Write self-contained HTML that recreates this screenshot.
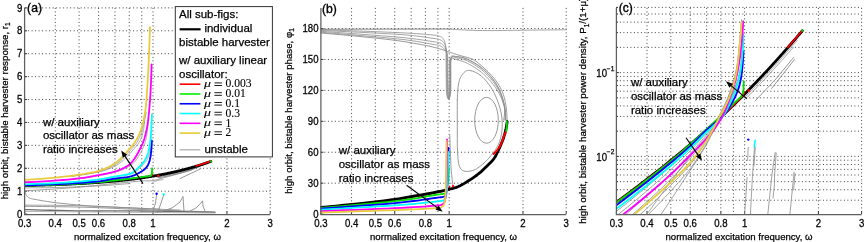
<!DOCTYPE html><html><head><meta charset="utf-8"><style>html,body{margin:0;padding:0;background:#fff;overflow:hidden}svg{display:block;will-change:transform}text{font-family:"Liberation Sans",sans-serif;fill:#000;stroke:#000;stroke-width:0.25px}.sf{font-family:"Liberation Serif",serif;stroke-width:0.1px}</style></head><body>
<svg xmlns="http://www.w3.org/2000/svg" width="864" height="242" viewBox="0 0 864 242">
<rect width="864" height="242" fill="#fff"/>
<line x1="55.28" y1="7.9" x2="55.28" y2="214.1" stroke="#444" stroke-width="1" stroke-dasharray="1 2.5" fill="none"/>
<line x1="79.09" y1="7.9" x2="79.09" y2="214.1" stroke="#444" stroke-width="1" stroke-dasharray="1 2.5" fill="none"/>
<line x1="98.53" y1="7.9" x2="98.53" y2="214.1" stroke="#444" stroke-width="1" stroke-dasharray="1 2.5" fill="none"/>
<line x1="114.98" y1="7.9" x2="114.98" y2="214.1" stroke="#444" stroke-width="1" stroke-dasharray="1 2.5" fill="none"/>
<line x1="129.22" y1="7.9" x2="129.22" y2="214.1" stroke="#444" stroke-width="1" stroke-dasharray="1 2.5" fill="none"/>
<line x1="141.78" y1="7.9" x2="141.78" y2="214.1" stroke="#444" stroke-width="1" stroke-dasharray="1 2.5" fill="none"/>
<line x1="153.02" y1="7.9" x2="153.02" y2="214.1" stroke="#444" stroke-width="1" stroke-dasharray="1 2.5" fill="none"/>
<line x1="226.95" y1="7.9" x2="226.95" y2="214.1" stroke="#444" stroke-width="1" stroke-dasharray="1 2.5" fill="none"/>
<line x1="270.20" y1="7.9" x2="270.20" y2="214.1" stroke="#444" stroke-width="1" stroke-dasharray="1 2.5" fill="none"/>
<line x1="24.6" y1="191.19" x2="270.20" y2="191.19" stroke="#444" stroke-width="1" stroke-dasharray="1 2.5" fill="none"/>
<line x1="24.6" y1="168.28" x2="270.20" y2="168.28" stroke="#444" stroke-width="1" stroke-dasharray="1 2.5" fill="none"/>
<line x1="24.6" y1="145.37" x2="270.20" y2="145.37" stroke="#444" stroke-width="1" stroke-dasharray="1 2.5" fill="none"/>
<line x1="24.6" y1="122.46" x2="270.20" y2="122.46" stroke="#444" stroke-width="1" stroke-dasharray="1 2.5" fill="none"/>
<line x1="24.6" y1="99.54" x2="270.20" y2="99.54" stroke="#444" stroke-width="1" stroke-dasharray="1 2.5" fill="none"/>
<line x1="24.6" y1="76.63" x2="270.20" y2="76.63" stroke="#444" stroke-width="1" stroke-dasharray="1 2.5" fill="none"/>
<line x1="24.6" y1="53.72" x2="270.20" y2="53.72" stroke="#444" stroke-width="1" stroke-dasharray="1 2.5" fill="none"/>
<line x1="24.6" y1="30.81" x2="270.20" y2="30.81" stroke="#444" stroke-width="1" stroke-dasharray="1 2.5" fill="none"/>
<line x1="24.6" y1="7.90" x2="270.20" y2="7.90" stroke="#444" stroke-width="1" stroke-dasharray="1 2.5" fill="none"/>
<line x1="24.6" y1="214.10" x2="27.1" y2="214.10" stroke="#000" stroke-width="0.8"/>
<text transform="translate(22.40,217.70) scale(1,1.08)" font-size="9.6" text-anchor="end">0</text>
<line x1="24.6" y1="191.19" x2="27.1" y2="191.19" stroke="#000" stroke-width="0.8"/>
<text transform="translate(22.40,194.79) scale(1,1.08)" font-size="9.6" text-anchor="end">1</text>
<line x1="24.6" y1="168.28" x2="27.1" y2="168.28" stroke="#000" stroke-width="0.8"/>
<text transform="translate(22.40,171.88) scale(1,1.08)" font-size="9.6" text-anchor="end">2</text>
<line x1="24.6" y1="145.37" x2="27.1" y2="145.37" stroke="#000" stroke-width="0.8"/>
<text transform="translate(22.40,148.97) scale(1,1.08)" font-size="9.6" text-anchor="end">3</text>
<line x1="24.6" y1="122.46" x2="27.1" y2="122.46" stroke="#000" stroke-width="0.8"/>
<text transform="translate(22.40,126.06) scale(1,1.08)" font-size="9.6" text-anchor="end">4</text>
<line x1="24.6" y1="99.54" x2="27.1" y2="99.54" stroke="#000" stroke-width="0.8"/>
<text transform="translate(22.40,103.14) scale(1,1.08)" font-size="9.6" text-anchor="end">5</text>
<line x1="24.6" y1="76.63" x2="27.1" y2="76.63" stroke="#000" stroke-width="0.8"/>
<text transform="translate(22.40,80.23) scale(1,1.08)" font-size="9.6" text-anchor="end">6</text>
<line x1="24.6" y1="53.72" x2="27.1" y2="53.72" stroke="#000" stroke-width="0.8"/>
<text transform="translate(22.40,57.32) scale(1,1.08)" font-size="9.6" text-anchor="end">7</text>
<line x1="24.6" y1="30.81" x2="27.1" y2="30.81" stroke="#000" stroke-width="0.8"/>
<text transform="translate(22.40,34.41) scale(1,1.08)" font-size="9.6" text-anchor="end">8</text>
<line x1="24.6" y1="7.90" x2="27.1" y2="7.90" stroke="#000" stroke-width="0.8"/>
<text transform="translate(22.40,11.50) scale(1,1.08)" font-size="9.6" text-anchor="end">9</text>
<line x1="24.60" y1="214.1" x2="24.60" y2="211.6" stroke="#000" stroke-width="0.8"/>
<text transform="translate(24.60,226.6) scale(1,1.1)" font-size="9.6" text-anchor="middle">0.3</text>
<line x1="55.28" y1="214.1" x2="55.28" y2="211.6" stroke="#000" stroke-width="0.8"/>
<text transform="translate(55.28,226.6) scale(1,1.1)" font-size="9.6" text-anchor="middle">0.4</text>
<line x1="79.09" y1="214.1" x2="79.09" y2="211.6" stroke="#000" stroke-width="0.8"/>
<text transform="translate(79.09,226.6) scale(1,1.1)" font-size="9.6" text-anchor="middle">0.5</text>
<line x1="98.53" y1="214.1" x2="98.53" y2="211.6" stroke="#000" stroke-width="0.8"/>
<text transform="translate(98.53,226.6) scale(1,1.1)" font-size="9.6" text-anchor="middle">0.6</text>
<line x1="129.22" y1="214.1" x2="129.22" y2="211.6" stroke="#000" stroke-width="0.8"/>
<text transform="translate(129.22,226.6) scale(1,1.1)" font-size="9.6" text-anchor="middle">0.8</text>
<line x1="153.02" y1="214.1" x2="153.02" y2="211.6" stroke="#000" stroke-width="0.8"/>
<text transform="translate(153.02,226.6) scale(1,1.1)" font-size="9.6" text-anchor="middle">1</text>
<line x1="226.95" y1="214.1" x2="226.95" y2="211.6" stroke="#000" stroke-width="0.8"/>
<text transform="translate(226.95,226.6) scale(1,1.1)" font-size="9.6" text-anchor="middle">2</text>
<line x1="270.20" y1="214.1" x2="270.20" y2="211.6" stroke="#000" stroke-width="0.8"/>
<text transform="translate(270.20,226.6) scale(1,1.1)" font-size="9.6" text-anchor="middle">3</text>
<text x="147.40" y="239.7" font-size="9.6" text-anchor="middle">normalized excitation frequency, ω</text>
<text transform="translate(7.6,110.8) rotate(-90)" font-size="9.73" text-anchor="middle">high orbit, bistable harvester response, r<tspan font-size="6.5" dy="2.5">1</tspan></text>
<text x="27.1" y="12.2" font-size="12.2" style="stroke-width:0.35px">(a)</text>
<line x1="351.55" y1="7.9" x2="351.55" y2="214.1" stroke="#444" stroke-width="1" stroke-dasharray="1 2.5" fill="none"/>
<line x1="375.32" y1="7.9" x2="375.32" y2="214.1" stroke="#444" stroke-width="1" stroke-dasharray="1 2.5" fill="none"/>
<line x1="394.74" y1="7.9" x2="394.74" y2="214.1" stroke="#444" stroke-width="1" stroke-dasharray="1 2.5" fill="none"/>
<line x1="411.16" y1="7.9" x2="411.16" y2="214.1" stroke="#444" stroke-width="1" stroke-dasharray="1 2.5" fill="none"/>
<line x1="425.39" y1="7.9" x2="425.39" y2="214.1" stroke="#444" stroke-width="1" stroke-dasharray="1 2.5" fill="none"/>
<line x1="437.94" y1="7.9" x2="437.94" y2="214.1" stroke="#444" stroke-width="1" stroke-dasharray="1 2.5" fill="none"/>
<line x1="449.16" y1="7.9" x2="449.16" y2="214.1" stroke="#444" stroke-width="1" stroke-dasharray="1 2.5" fill="none"/>
<line x1="523.00" y1="7.9" x2="523.00" y2="214.1" stroke="#444" stroke-width="1" stroke-dasharray="1 2.5" fill="none"/>
<line x1="566.20" y1="7.9" x2="566.20" y2="214.1" stroke="#444" stroke-width="1" stroke-dasharray="1 2.5" fill="none"/>
<line x1="320.9" y1="183.17" x2="566.20" y2="183.17" stroke="#444" stroke-width="1" stroke-dasharray="1 2.5" fill="none"/>
<line x1="320.9" y1="152.24" x2="566.20" y2="152.24" stroke="#444" stroke-width="1" stroke-dasharray="1 2.5" fill="none"/>
<line x1="320.9" y1="121.31" x2="566.20" y2="121.31" stroke="#444" stroke-width="1" stroke-dasharray="1 2.5" fill="none"/>
<line x1="320.9" y1="90.38" x2="566.20" y2="90.38" stroke="#444" stroke-width="1" stroke-dasharray="1 2.5" fill="none"/>
<line x1="320.9" y1="59.45" x2="566.20" y2="59.45" stroke="#444" stroke-width="1" stroke-dasharray="1 2.5" fill="none"/>
<line x1="320.9" y1="28.52" x2="566.20" y2="28.52" stroke="#444" stroke-width="1" stroke-dasharray="1 2.5" fill="none"/>
<line x1="320.9" y1="214.10" x2="323.4" y2="214.10" stroke="#000" stroke-width="0.8"/>
<text transform="translate(318.50,217.70) scale(1,1.08)" font-size="9.6" text-anchor="end">0</text>
<line x1="320.9" y1="183.17" x2="323.4" y2="183.17" stroke="#000" stroke-width="0.8"/>
<text transform="translate(318.50,186.77) scale(1,1.08)" font-size="9.6" text-anchor="end">30</text>
<line x1="320.9" y1="152.24" x2="323.4" y2="152.24" stroke="#000" stroke-width="0.8"/>
<text transform="translate(318.50,155.84) scale(1,1.08)" font-size="9.6" text-anchor="end">60</text>
<line x1="320.9" y1="121.31" x2="323.4" y2="121.31" stroke="#000" stroke-width="0.8"/>
<text transform="translate(318.50,124.91) scale(1,1.08)" font-size="9.6" text-anchor="end">90</text>
<line x1="320.9" y1="90.38" x2="323.4" y2="90.38" stroke="#000" stroke-width="0.8"/>
<text transform="translate(318.50,93.98) scale(1,1.08)" font-size="9.6" text-anchor="end">120</text>
<line x1="320.9" y1="59.45" x2="323.4" y2="59.45" stroke="#000" stroke-width="0.8"/>
<text transform="translate(318.50,63.05) scale(1,1.08)" font-size="9.6" text-anchor="end">150</text>
<line x1="320.9" y1="28.52" x2="323.4" y2="28.52" stroke="#000" stroke-width="0.8"/>
<text transform="translate(318.50,32.12) scale(1,1.08)" font-size="9.6" text-anchor="end">180</text>
<line x1="320.90" y1="214.1" x2="320.90" y2="211.6" stroke="#000" stroke-width="0.8"/>
<text transform="translate(320.90,226.6) scale(1,1.1)" font-size="9.6" text-anchor="middle">0.3</text>
<line x1="351.55" y1="214.1" x2="351.55" y2="211.6" stroke="#000" stroke-width="0.8"/>
<text transform="translate(351.55,226.6) scale(1,1.1)" font-size="9.6" text-anchor="middle">0.4</text>
<line x1="375.32" y1="214.1" x2="375.32" y2="211.6" stroke="#000" stroke-width="0.8"/>
<text transform="translate(375.32,226.6) scale(1,1.1)" font-size="9.6" text-anchor="middle">0.5</text>
<line x1="394.74" y1="214.1" x2="394.74" y2="211.6" stroke="#000" stroke-width="0.8"/>
<text transform="translate(394.74,226.6) scale(1,1.1)" font-size="9.6" text-anchor="middle">0.6</text>
<line x1="425.39" y1="214.1" x2="425.39" y2="211.6" stroke="#000" stroke-width="0.8"/>
<text transform="translate(425.39,226.6) scale(1,1.1)" font-size="9.6" text-anchor="middle">0.8</text>
<line x1="449.16" y1="214.1" x2="449.16" y2="211.6" stroke="#000" stroke-width="0.8"/>
<text transform="translate(449.16,226.6) scale(1,1.1)" font-size="9.6" text-anchor="middle">1</text>
<line x1="523.00" y1="214.1" x2="523.00" y2="211.6" stroke="#000" stroke-width="0.8"/>
<text transform="translate(523.00,226.6) scale(1,1.1)" font-size="9.6" text-anchor="middle">2</text>
<line x1="566.20" y1="214.1" x2="566.20" y2="211.6" stroke="#000" stroke-width="0.8"/>
<text transform="translate(566.20,226.6) scale(1,1.1)" font-size="9.6" text-anchor="middle">3</text>
<text x="443.55" y="239.7" font-size="9.6" text-anchor="middle">normalized excitation frequency, ω</text>
<text transform="translate(291.8,111.0) rotate(-90)" font-size="9.67" text-anchor="middle">high orbit, bistable harvester phase, φ<tspan font-size="6.5" dy="2.5">1</tspan></text>
<text x="321.9" y="12.6" font-size="12.2" style="stroke-width:0.35px">(b)</text>
<line x1="647.03" y1="7.9" x2="647.03" y2="214.1" stroke="#444" stroke-width="1" stroke-dasharray="1 2.5" fill="none"/>
<line x1="670.80" y1="7.9" x2="670.80" y2="214.1" stroke="#444" stroke-width="1" stroke-dasharray="1 2.5" fill="none"/>
<line x1="690.21" y1="7.9" x2="690.21" y2="214.1" stroke="#444" stroke-width="1" stroke-dasharray="1 2.5" fill="none"/>
<line x1="706.63" y1="7.9" x2="706.63" y2="214.1" stroke="#444" stroke-width="1" stroke-dasharray="1 2.5" fill="none"/>
<line x1="720.85" y1="7.9" x2="720.85" y2="214.1" stroke="#444" stroke-width="1" stroke-dasharray="1 2.5" fill="none"/>
<line x1="733.39" y1="7.9" x2="733.39" y2="214.1" stroke="#444" stroke-width="1" stroke-dasharray="1 2.5" fill="none"/>
<line x1="744.61" y1="7.9" x2="744.61" y2="214.1" stroke="#444" stroke-width="1" stroke-dasharray="1 2.5" fill="none"/>
<line x1="818.42" y1="7.9" x2="818.42" y2="214.1" stroke="#444" stroke-width="1" stroke-dasharray="1 2.5" fill="none"/>
<line x1="861.60" y1="7.9" x2="861.60" y2="214.1" stroke="#444" stroke-width="1" stroke-dasharray="1 2.5" fill="none"/>
<line x1="616.4" y1="200.22" x2="861.60" y2="200.22" stroke="#444" stroke-width="1" stroke-dasharray="1 2.5" fill="none"/>
<line x1="616.4" y1="189.75" x2="861.60" y2="189.75" stroke="#444" stroke-width="1" stroke-dasharray="1 2.5" fill="none"/>
<line x1="616.4" y1="181.63" x2="861.60" y2="181.63" stroke="#444" stroke-width="1" stroke-dasharray="1 2.5" fill="none"/>
<line x1="616.4" y1="174.99" x2="861.60" y2="174.99" stroke="#444" stroke-width="1" stroke-dasharray="1 2.5" fill="none"/>
<line x1="616.4" y1="169.38" x2="861.60" y2="169.38" stroke="#444" stroke-width="1" stroke-dasharray="1 2.5" fill="none"/>
<line x1="616.4" y1="164.52" x2="861.60" y2="164.52" stroke="#444" stroke-width="1" stroke-dasharray="1 2.5" fill="none"/>
<line x1="616.4" y1="160.23" x2="861.60" y2="160.23" stroke="#444" stroke-width="1" stroke-dasharray="1 2.5" fill="none"/>
<line x1="616.4" y1="156.40" x2="861.60" y2="156.40" stroke="#444" stroke-width="1" stroke-dasharray="1 2.5" fill="none"/>
<line x1="616.4" y1="131.17" x2="861.60" y2="131.17" stroke="#444" stroke-width="1" stroke-dasharray="1 2.5" fill="none"/>
<line x1="616.4" y1="116.42" x2="861.60" y2="116.42" stroke="#444" stroke-width="1" stroke-dasharray="1 2.5" fill="none"/>
<line x1="616.4" y1="105.95" x2="861.60" y2="105.95" stroke="#444" stroke-width="1" stroke-dasharray="1 2.5" fill="none"/>
<line x1="616.4" y1="97.83" x2="861.60" y2="97.83" stroke="#444" stroke-width="1" stroke-dasharray="1 2.5" fill="none"/>
<line x1="616.4" y1="91.19" x2="861.60" y2="91.19" stroke="#444" stroke-width="1" stroke-dasharray="1 2.5" fill="none"/>
<line x1="616.4" y1="85.58" x2="861.60" y2="85.58" stroke="#444" stroke-width="1" stroke-dasharray="1 2.5" fill="none"/>
<line x1="616.4" y1="80.72" x2="861.60" y2="80.72" stroke="#444" stroke-width="1" stroke-dasharray="1 2.5" fill="none"/>
<line x1="616.4" y1="76.43" x2="861.60" y2="76.43" stroke="#444" stroke-width="1" stroke-dasharray="1 2.5" fill="none"/>
<line x1="616.4" y1="72.60" x2="861.60" y2="72.60" stroke="#444" stroke-width="1" stroke-dasharray="1 2.5" fill="none"/>
<line x1="616.4" y1="47.37" x2="861.60" y2="47.37" stroke="#444" stroke-width="1" stroke-dasharray="1 2.5" fill="none"/>
<line x1="616.4" y1="32.62" x2="861.60" y2="32.62" stroke="#444" stroke-width="1" stroke-dasharray="1 2.5" fill="none"/>
<line x1="616.4" y1="22.15" x2="861.60" y2="22.15" stroke="#444" stroke-width="1" stroke-dasharray="1 2.5" fill="none"/>
<line x1="616.4" y1="14.03" x2="861.60" y2="14.03" stroke="#444" stroke-width="1" stroke-dasharray="1 2.5" fill="none"/>
<line x1="616.4" y1="7.39" x2="861.60" y2="7.39" stroke="#444" stroke-width="1" stroke-dasharray="1 2.5" fill="none"/>
<line x1="616.4" y1="200.22" x2="617.9" y2="200.22" stroke="#000" stroke-width="0.8"/>
<line x1="616.4" y1="189.75" x2="617.9" y2="189.75" stroke="#000" stroke-width="0.8"/>
<line x1="616.4" y1="181.63" x2="617.9" y2="181.63" stroke="#000" stroke-width="0.8"/>
<line x1="616.4" y1="174.99" x2="617.9" y2="174.99" stroke="#000" stroke-width="0.8"/>
<line x1="616.4" y1="169.38" x2="617.9" y2="169.38" stroke="#000" stroke-width="0.8"/>
<line x1="616.4" y1="164.52" x2="617.9" y2="164.52" stroke="#000" stroke-width="0.8"/>
<line x1="616.4" y1="160.23" x2="617.9" y2="160.23" stroke="#000" stroke-width="0.8"/>
<line x1="616.4" y1="156.40" x2="618.9" y2="156.40" stroke="#000" stroke-width="0.8"/>
<line x1="616.4" y1="131.17" x2="617.9" y2="131.17" stroke="#000" stroke-width="0.8"/>
<line x1="616.4" y1="116.42" x2="617.9" y2="116.42" stroke="#000" stroke-width="0.8"/>
<line x1="616.4" y1="105.95" x2="617.9" y2="105.95" stroke="#000" stroke-width="0.8"/>
<line x1="616.4" y1="97.83" x2="617.9" y2="97.83" stroke="#000" stroke-width="0.8"/>
<line x1="616.4" y1="91.19" x2="617.9" y2="91.19" stroke="#000" stroke-width="0.8"/>
<line x1="616.4" y1="85.58" x2="617.9" y2="85.58" stroke="#000" stroke-width="0.8"/>
<line x1="616.4" y1="80.72" x2="617.9" y2="80.72" stroke="#000" stroke-width="0.8"/>
<line x1="616.4" y1="76.43" x2="617.9" y2="76.43" stroke="#000" stroke-width="0.8"/>
<line x1="616.4" y1="72.60" x2="618.9" y2="72.60" stroke="#000" stroke-width="0.8"/>
<line x1="616.4" y1="47.37" x2="617.9" y2="47.37" stroke="#000" stroke-width="0.8"/>
<line x1="616.4" y1="32.62" x2="617.9" y2="32.62" stroke="#000" stroke-width="0.8"/>
<line x1="616.4" y1="22.15" x2="617.9" y2="22.15" stroke="#000" stroke-width="0.8"/>
<line x1="616.4" y1="14.03" x2="617.9" y2="14.03" stroke="#000" stroke-width="0.8"/>
<line x1="616.4" y1="7.39" x2="617.9" y2="7.39" stroke="#000" stroke-width="0.8"/>
<text transform="translate(596.3,160.80) scale(1,1.16)" font-size="9.6">10</text>
<text x="606.8" y="154.40" font-size="6.6">−2</text>
<text transform="translate(596.3,77.00) scale(1,1.16)" font-size="9.6">10</text>
<text x="606.8" y="70.60" font-size="6.6">−1</text>
<line x1="616.40" y1="214.1" x2="616.40" y2="211.6" stroke="#000" stroke-width="0.8"/>
<text transform="translate(616.40,226.6) scale(1,1.1)" font-size="9.6" text-anchor="middle">0.3</text>
<line x1="647.03" y1="214.1" x2="647.03" y2="211.6" stroke="#000" stroke-width="0.8"/>
<text transform="translate(647.03,226.6) scale(1,1.1)" font-size="9.6" text-anchor="middle">0.4</text>
<line x1="670.80" y1="214.1" x2="670.80" y2="211.6" stroke="#000" stroke-width="0.8"/>
<text transform="translate(670.80,226.6) scale(1,1.1)" font-size="9.6" text-anchor="middle">0.5</text>
<line x1="690.21" y1="214.1" x2="690.21" y2="211.6" stroke="#000" stroke-width="0.8"/>
<text transform="translate(690.21,226.6) scale(1,1.1)" font-size="9.6" text-anchor="middle">0.6</text>
<line x1="720.85" y1="214.1" x2="720.85" y2="211.6" stroke="#000" stroke-width="0.8"/>
<text transform="translate(720.85,226.6) scale(1,1.1)" font-size="9.6" text-anchor="middle">0.8</text>
<line x1="744.61" y1="214.1" x2="744.61" y2="211.6" stroke="#000" stroke-width="0.8"/>
<text transform="translate(744.61,226.6) scale(1,1.1)" font-size="9.6" text-anchor="middle">1</text>
<line x1="818.42" y1="214.1" x2="818.42" y2="211.6" stroke="#000" stroke-width="0.8"/>
<text transform="translate(818.42,226.6) scale(1,1.1)" font-size="9.6" text-anchor="middle">2</text>
<line x1="861.60" y1="214.1" x2="861.60" y2="211.6" stroke="#000" stroke-width="0.8"/>
<text transform="translate(861.60,226.6) scale(1,1.1)" font-size="9.6" text-anchor="middle">3</text>
<text x="739.00" y="239.7" font-size="9.6" text-anchor="middle">normalized excitation frequency, ω</text>
<text transform="translate(586.2,110.8) rotate(-90)" font-size="9.75" text-anchor="middle">high orbit, bistable harvester power density, P<tspan font-size="6.5" dy="2.5">1</tspan><tspan dy="-2.5">/(1+μ)</tspan></text>
<text x="618.7" y="12.0" font-size="12.2" style="stroke-width:0.35px">(c)</text>
<defs><clipPath id="ca"><rect x="24" y="4" width="248" height="210.5"/></clipPath><clipPath id="cb"><rect x="320" y="4" width="248" height="210.5"/></clipPath><clipPath id="cc"><rect x="616" y="4" width="248" height="210.5"/></clipPath></defs>
<g clip-path="url(#ca)">
<path d="M24.60 205.10 L29.18 205.14 L35.26 205.18 L42.50 205.22 L50.55 205.28 L59.07 205.35 L67.72 205.46 L76.14 205.61 L84.00 205.80 L91.64 206.06 L99.52 206.39 L107.51 206.76 L115.46 207.16 L123.23 207.56 L130.67 207.95 L137.64 208.30 L144.00 208.60 L149.89 208.85 L155.53 209.08 L160.84 209.29 L165.75 209.47 L170.19 209.64 L174.09 209.78 L177.39 209.90 L180.00 210.00" stroke="#8c8c8c" stroke-width="0.8" fill="none" stroke-linejoin="round" stroke-linecap="round" />
<path d="M24.60 206.30 L29.18 206.36 L35.26 206.43 L42.50 206.51 L50.55 206.60 L59.07 206.71 L67.72 206.85 L76.14 207.01 L84.00 207.20 L91.50 207.43 L99.05 207.71 L106.63 208.01 L114.21 208.34 L121.77 208.67 L129.27 209.00 L136.69 209.31 L144.00 209.60 L151.47 209.87 L159.24 210.14 L167.09 210.41 L174.81 210.67 L182.18 210.91 L188.98 211.14 L194.99 211.33 L200.00 211.50 L203.94 211.63 L206.98 211.74 L209.29 211.81 L211.00 211.87 L212.28 211.91 L213.27 211.94 L214.12 211.97 L215.00 212.00" stroke="#8c8c8c" stroke-width="0.9" fill="none" stroke-linejoin="round" stroke-linecap="round" />
<path d="M24.60 209.60 L29.18 209.71 L35.26 209.86 L42.50 210.05 L50.55 210.24 L59.07 210.44 L67.72 210.63 L76.14 210.79 L84.00 210.90 L91.40 210.96 L98.70 210.98 L105.97 210.97 L113.28 210.95 L120.67 210.93 L128.21 210.92 L135.97 210.94 L144.00 211.00 L152.83 211.11 L162.64 211.27 L172.94 211.46 L183.25 211.66 L193.09 211.85 L201.98 212.04 L209.45 212.19 L215.00 212.30" stroke="#6e6e6e" stroke-width="1.3" fill="none" stroke-linejoin="round" stroke-linecap="round" />
<path d="M24.60 211.40 L28.69 211.43 L33.60 211.48 L39.38 211.52 L46.11 211.58 L53.87 211.65 L62.72 211.72 L72.74 211.81 L84.00 211.90 L97.84 212.02 L114.79 212.16 L133.64 212.32 L153.21 212.48 L172.32 212.64 L189.78 212.79 L204.40 212.91 L215.00 213.00" stroke="#aaaaaa" stroke-width="0.9" fill="none" stroke-linejoin="round" stroke-linecap="round" />
<path d="M25.20 191.60 L25.26 191.87 L25.34 192.22 L25.42 192.65 L25.53 193.12 L25.65 193.62 L25.80 194.11 L25.98 194.58 L26.20 195.00 L26.44 195.39 L26.70 195.77 L26.98 196.15 L27.29 196.51 L27.64 196.86 L28.03 197.20 L28.48 197.51 L29.00 197.80 L29.50 198.05 L29.95 198.25 L30.40 198.42 L30.93 198.58 L31.58 198.74 L32.44 198.92 L33.56 199.13 L35.00 199.40 L36.77 199.73 L38.80 200.09 L41.08 200.50 L43.56 200.92 L46.23 201.35 L49.04 201.78 L51.97 202.20 L55.00 202.60 L58.28 202.99 L61.92 203.39 L65.79 203.79 L69.75 204.19 L73.68 204.56 L77.45 204.92 L80.94 205.23 L84.00 205.50 L86.43 205.71 L88.26 205.86 L89.72 205.97 L91.06 206.06 L92.52 206.14 L94.34 206.23 L96.75 206.34 L100.00 206.50 L104.35 206.70 L109.69 206.94 L115.68 207.19 L122.00 207.46 L128.32 207.73 L134.31 207.98 L139.65 208.21 L144.00 208.40 L147.45 208.56 L150.34 208.70 L152.75 208.82 L154.75 208.92 L156.40 209.01 L157.78 209.08 L158.96 209.15 L160.00 209.20" stroke="#8c8c8c" stroke-width="0.9" fill="none" stroke-linejoin="round" stroke-linecap="round" />
<path d="M24.60 187.90 L27.30 187.87 L30.85 187.84 L35.08 187.80 L39.80 187.75 L44.83 187.69 L50.00 187.61 L55.11 187.52 L60.00 187.40 L64.85 187.26 L69.91 187.09 L75.10 186.91 L80.34 186.71 L85.53 186.50 L90.60 186.28 L95.45 186.04 L100.00 185.80 L104.43 185.53 L108.91 185.22 L113.30 184.89 L117.50 184.55 L121.39 184.22 L124.84 183.93 L127.75 183.68 L130.00 183.50" stroke="#8c8c8c" stroke-width="0.8" fill="none" stroke-linejoin="round" stroke-linecap="round" />
<path d="M160.00 212.00 L172.00 208.00 L180.00 202.00 L183.00 196.50 L183.50 204.00 L184.00 211.00" stroke="#8c8c8c" stroke-width="0.9" fill="none" stroke-linejoin="round" stroke-linecap="round" />
<path d="M188.00 212.00 L196.00 208.00 L201.00 203.00 L202.60 200.80 L203.00 206.00 L205.00 211.00" stroke="#8c8c8c" stroke-width="0.9" fill="none" stroke-linejoin="round" stroke-linecap="round" />
<path d="M156.60 195.00 L155.50 203.00 L154.00 208.00 L153.20 212.00" stroke="#8c8c8c" stroke-width="0.9" fill="none" stroke-linejoin="round" stroke-linecap="round" />
<path d="M163.70 195.00 L161.00 203.00 L158.50 210.00 L157.50 212.50" stroke="#8c8c8c" stroke-width="0.9" fill="none" stroke-linejoin="round" stroke-linecap="round" />
<path d="M24.60 190.77 L27.73 190.61 L30.77 190.44 L33.72 190.28 L36.60 190.12 L39.40 189.96 L42.13 189.80 L44.79 189.63 L47.39 189.47 L49.92 189.31 L52.40 189.14 L54.81 188.98 L57.18 188.81 L59.49 188.65 L61.76 188.49 L63.98 188.32 L66.15 188.16 L68.28 187.99 L70.37 187.83 L72.41 187.67 L74.42 187.51 L76.40 187.34 L78.33 187.18 L80.23 187.02 L82.10 186.86 L83.94 186.69 L85.74 186.52 L87.52 186.35 L89.26 186.17 L90.98 186.00 L92.67 185.82 L94.34 185.65 L95.98 185.47 L97.59 185.29 L99.18 185.12 L100.75 184.95 L102.29 184.78 L103.81 184.61 L105.31 184.45 L106.79 184.28 L108.25 184.13 L109.69 183.97 L111.11 183.83 L112.51 183.68 L113.90 183.55 L115.26 183.42 L116.61 183.29 L117.94 183.16 L119.26 183.04 L120.56 182.91 L121.84 182.79 L123.11 182.67 L124.36 182.55 L125.60 182.44 L126.83 182.32 L128.04 182.21 L129.23 182.09 L130.42 181.98 L131.59 181.87 L132.75 181.76 L133.89 181.65 L135.03 181.54 L136.15 181.43 L137.26 181.33 L138.36 181.22 L139.44 181.12 L140.52 181.01 L141.59 180.91 L142.64 180.82 L143.69 180.78 L144.72 180.77 L145.75 180.79 L146.76 180.82 L147.77 180.85 L148.76 180.88 L149.75 180.89 L150.73 180.87 L151.70 180.81 L152.66 180.70 L153.61 180.54 L154.55 180.34 L155.49 180.12 L156.41 179.88 L157.33 179.63 L158.24 179.36 L159.15 179.09 L160.04 178.81 L160.93 178.54 L161.81 178.28 L162.68 178.04 L163.55 177.80 L164.41 177.58 L165.26 177.35 L166.11 177.13 L166.95 176.91 L167.78 176.69 L168.61 176.47 L169.43 176.25 L170.24 176.04 L171.05 175.82 L171.85 175.60 L172.64 175.39 L173.43 175.17 L174.22 174.95 L175.00 174.74 L175.77 174.52 L176.54 174.30 L177.30 174.08 L178.05 173.86 L178.80 173.64 L179.55 173.42 L180.29 173.20 L181.02 172.97 L181.75 172.75 L182.48 172.52 L183.20 172.30 L183.92 172.07 L184.63 171.85 L185.33 171.62 L186.03 171.39 L186.73 171.17 L187.42 170.94 L188.11 170.71 L188.79 170.48 L189.47 170.25 L190.15 170.02 L190.82 169.79 L191.48 169.56 L192.15 169.33 L192.80 169.09 L193.46 168.86 L194.11 168.62 L194.75 168.38 L195.40 168.14 L196.03 167.90 L196.67 167.66 L197.30 167.41 L197.93 167.16 L198.55 166.92 L199.17 166.67 L199.79 166.42 L200.40 166.16 L201.01 165.91 L201.61 165.65 L202.22 165.40 L202.81 165.14 L203.41 164.88 L204.00 164.62 L204.59 164.36 L205.18 164.10 L205.76 163.83 L206.34 163.57 L206.92 163.30 L207.49 163.03 L208.06 162.77 L208.63 162.50 L209.19 162.22 L209.75 161.95 L210.31 161.68 L210.86 161.41" stroke="#8c8c8c" stroke-width="0.9" fill="none" stroke-linejoin="round" stroke-linecap="round" />
<path d="M156.17 176.24 L157.20 176.38 L158.22 176.51 L159.23 176.65 L160.24 176.46 L161.23 176.28 L162.21 176.09 L163.19 175.90 L164.15 175.71 L165.11 175.52 L166.06 175.33 L166.99 175.14 L167.93 174.95 L168.85 174.76 L169.77 174.56 L170.67 174.37 L171.57 174.17 L172.47 173.98 L173.35 173.78 L174.23 173.58 L175.10 173.38 L175.96 173.19 L176.82 172.99 L177.67 172.79 L178.51 172.59 L179.35 172.38 L180.18 172.18 L181.00 171.98 L181.82 171.78 L182.63 171.57 L183.44 171.37 L184.24 171.16 L185.03 170.96 L185.82 170.75 L186.60 170.55 L187.37 170.34 L188.14 170.13 L188.91 169.92 L189.67 169.71 L190.42 169.50 L191.17 169.21 L191.91 168.92 L192.65 168.63 L193.38 168.34 L194.11 168.05 L194.84 167.76 L195.55 167.46 L196.27 167.17 L196.98 166.88 L197.68 166.58 L198.38 166.29 L199.07 165.99 L199.76 165.70 L200.45 165.40 L201.13 165.10 L201.81 164.81 L202.48 164.51 L203.15 164.21 L203.82 163.91 L204.48 163.61" stroke="#777" stroke-width="0.9" fill="none" stroke-linejoin="round" stroke-linecap="round" />
<path d="M156.17 176.64 L157.20 176.98 L158.22 177.31 L159.23 177.65 L160.24 177.46 L161.23 177.28 L162.21 177.09 L163.19 176.90 L164.15 176.71 L165.11 176.52 L166.06 176.33 L166.99 176.14 L167.93 175.95 L168.85 175.76 L169.77 175.56 L170.67 175.37 L171.57 175.17 L172.47 174.98 L173.35 174.78 L174.23 174.58 L175.10 174.38 L175.96 174.19 L176.82 173.99 L177.67 173.79 L178.51 173.59 L179.35 173.38 L180.18 173.18 L181.00 172.98 L181.82 172.78 L182.63 172.57 L183.44 172.37 L184.24 172.16 L185.03 171.96 L185.82 171.75 L186.60 171.55 L187.37 171.34 L188.14 171.13 L188.91 170.92 L189.67 170.71 L190.42 170.50 L191.17 170.16 L191.91 169.82 L192.65 169.48 L193.38 169.14 L194.11 168.80 L194.84 168.46 L195.55 168.11 L196.27 167.77 L196.98 167.43 L197.68 167.08 L198.38 166.74 L199.07 166.39 L199.76 166.05 L200.45 165.70 L201.13 165.35 L201.81 165.01 L202.48 164.66 L203.15 164.31 L203.82 163.96 L204.48 163.61" stroke="#777" stroke-width="0.9" fill="none" stroke-linejoin="round" stroke-linecap="round" />
<path d="M180.00 178.60 L201.00 168.60" stroke="#8c8c8c" stroke-width="0.9" fill="none" stroke-linejoin="round" stroke-linecap="round" />
<path d="M151.50 183.50 L151.73 183.35 L152.03 183.14 L152.38 182.90 L152.78 182.62 L153.21 182.34 L153.64 182.07 L154.08 181.82 L154.50 181.60 L154.90 181.41 L155.30 181.24 L155.71 181.08 L156.12 180.93 L156.56 180.79 L157.01 180.66 L157.49 180.53 L158.00 180.40 L158.59 180.28 L159.26 180.15 L159.98 180.04 L160.72 179.93 L161.43 179.82 L162.07 179.73 L162.60 179.66 L163.00 179.60" stroke="#8c8c8c" stroke-width="0.8" fill="none" stroke-linejoin="round" stroke-linecap="round" />
<path d="M70.05 176.23 L71.88 176.01 L73.63 175.78 L75.31 175.55 L76.93 175.33 L78.48 175.11 L79.98 174.89 L81.42 174.67 L82.82 174.46 L84.16 174.25 L85.46 174.04 L86.72 173.84 L87.94 173.64 L89.13 173.43 L90.27 173.23 L91.38 173.03 L92.46 172.83 L93.51 172.62 L94.53 172.42 L95.53 172.21 L96.49 171.99 L97.43 171.78 L98.35 171.56 L99.24 171.33 L100.11 171.11 L100.96 170.87 L101.78 170.63 L102.59 170.38 L103.38 170.12 L104.15 169.86 L104.90 169.58 L105.64 169.31 L106.36 169.02 L107.06 168.73 L107.75 168.44 L108.43 168.14 L109.08 167.84 L109.73 167.54 L110.36 167.23 L110.98 166.92 L111.59 166.61 L112.18 166.29 L112.77 165.98 L113.34 165.66 L113.90 165.35 L114.45 165.03 L114.99 164.71 L115.52 164.39 L116.04 164.07 L116.55 163.75 L117.05 163.43 L117.54 163.11 L118.02 162.78 L118.50 162.44 L118.96 162.08 L119.42 161.72 L119.87 161.36 L120.31 160.98 L120.75 160.61 L121.17 160.23 L121.59 159.84 L122.01 159.45 L122.41 159.06 L122.81 158.67 L123.21 158.28 L123.59 157.89 L123.98 157.50 L124.35 157.11 L124.72 156.72 L125.08 156.33 L125.44 155.94 L125.79 155.56 L126.14 155.18 L126.48 154.80 L126.82 154.43 L127.15 154.06 L127.47 153.70 L127.79 153.33 L128.11 152.98 L128.42 152.62 L128.73 152.28 L129.03 151.93 L129.33 151.59 L129.63 151.26 L129.92 150.93 L130.20 150.61 L130.48 150.30 L130.76 149.99 L131.04 149.68 L131.31 149.38 L131.57 149.09 L131.84 148.80 L132.10 148.51 L132.35 148.22 L132.60 147.94 L132.85 147.65 L133.10 147.36 L133.34 147.08 L133.58 146.80 L133.82 146.52 L134.05 146.23 L134.28 145.95 L134.50 145.67 L134.73 145.39 L134.95 145.11 L135.17 144.83 L135.38 144.54 L135.59 144.26 L135.80 143.98 L136.01 143.70 L136.22 143.41 L136.42 143.13 L136.62 142.85 L136.81 142.56 L137.01 142.28 L137.20 141.99 L137.37 141.70 L137.53 141.41 L137.70 141.12 L137.86 140.83 L138.02 140.54 L138.17 140.25 L138.33 139.95 L138.48 139.66 L138.63 139.36 L138.78 139.06 L138.92 138.76 L139.07 138.46 L139.21 138.16 L139.35 137.86 L139.49 137.55 L139.62 137.24 L139.75 136.94 L139.89 136.62 L140.02 136.31 L140.14 136.00 L140.27 135.68 L140.39 135.36 L140.52 135.05 L140.64 134.72 L140.75 134.40 L140.87 134.08 L140.99 133.75 L141.10 133.42 L141.21 133.09 L141.32 132.75 L141.43 132.42 L141.53 132.08 L141.64 131.74 L141.74 131.40 L141.84 131.06 L141.94 130.71 L142.04 130.36 L142.14 130.01 L142.24 129.66 L142.33 129.31 L142.42 128.95 L142.51 128.59 L142.60 128.23 L142.69 127.87 L142.78 127.50 L142.86 127.13 L142.95 126.76 L143.03 126.39 L143.11 126.02 L143.19 125.65 L143.27 125.27 L143.35 124.90 L143.42 124.52 L143.50 124.14 L143.57 123.75 L143.64 123.37 L143.71 122.98 L143.78 122.59 L143.85 122.20 L143.92 121.81 L143.99 121.41 L144.05 121.01 L144.12 120.61 L144.18 120.20 L144.24 119.79 L144.31 119.38 L144.40 118.96 L144.49 118.54 L144.57 118.12 L144.66 117.69 L144.75 117.26 L144.83 116.82 L144.92 116.38 L145.00 115.94 L145.08 115.50 L145.16 115.05 L145.24 114.59 L145.32 114.13 L145.40 113.67 L145.48 113.20 L145.56 112.73 L145.63 112.25" stroke="#8c8c8c" stroke-width="0.8" fill="none" stroke-linejoin="round" stroke-linecap="round" />
<path d="M72.25 176.23 L74.08 176.01 L75.83 175.78 L77.51 175.55 L79.13 175.33 L80.68 175.11 L82.18 174.89 L83.62 174.67 L85.02 174.46 L86.36 174.25 L87.66 174.04 L88.92 173.84 L90.14 173.64 L91.33 173.43 L92.47 173.23 L93.58 173.03 L94.66 172.83 L95.71 172.62 L96.73 172.42 L97.73 172.21 L98.69 171.99 L99.63 171.78 L100.55 171.56 L101.44 171.33 L102.31 171.11 L103.16 170.87 L103.98 170.63 L104.79 170.38 L105.58 170.12 L106.35 169.86 L107.10 169.58 L107.84 169.31 L108.56 169.02 L109.26 168.73 L109.95 168.44 L110.63 168.14 L111.28 167.84 L111.93 167.54 L112.56 167.23 L113.18 166.92 L113.79 166.61 L114.38 166.29 L114.97 165.98 L115.54 165.66 L116.10 165.35 L116.65 165.03 L117.19 164.71 L117.72 164.39 L118.24 164.07 L118.75 163.75 L119.25 163.43 L119.74 163.11 L120.22 162.78 L120.70 162.44 L121.16 162.08 L121.62 161.72 L122.07 161.36 L122.51 160.98 L122.95 160.61 L123.37 160.23 L123.79 159.84 L124.21 159.45 L124.61 159.06 L125.01 158.67 L125.41 158.28 L125.79 157.89 L126.18 157.50 L126.55 157.11 L126.92 156.72 L127.28 156.33 L127.64 155.94 L127.99 155.56 L128.34 155.18 L128.68 154.80 L129.02 154.43 L129.35 154.06 L129.67 153.70 L129.99 153.33 L130.31 152.98 L130.62 152.62 L130.93 152.28 L131.23 151.93 L131.53 151.59 L131.83 151.26 L132.12 150.93 L132.40 150.61 L132.68 150.30 L132.96 149.99 L133.24 149.68 L133.51 149.38 L133.77 149.09 L134.04 148.80 L134.30 148.51 L134.55 148.22 L134.80 147.94 L135.05 147.65 L135.30 147.36 L135.54 147.08 L135.78 146.80 L136.02 146.52 L136.25 146.23 L136.48 145.95 L136.70 145.67 L136.93 145.39 L137.15 145.11 L137.37 144.83 L137.58 144.54 L137.79 144.26 L138.00 143.98 L138.21 143.70 L138.42 143.41 L138.62 143.13 L138.82 142.85 L139.01 142.56 L139.21 142.28 L139.40 141.99 L139.54 141.70 L139.69 141.41 L139.83 141.12 L139.97 140.83 L140.11 140.54 L140.25 140.25 L140.38 139.95 L140.51 139.66 L140.64 139.36 L140.76 139.06 L140.89 138.76 L141.01 138.46 L141.13 138.16 L141.24 137.86 L141.36 137.55 L141.47 137.24 L141.58 136.94 L141.69 136.62 L141.80 136.31 L141.90 136.00 L142.01 135.68 L142.11 135.36 L142.21 135.05 L142.30 134.72 L142.40 134.40 L142.49 134.08 L142.58 133.75 L142.67 133.42 L142.76 133.09 L142.84 132.75 L142.93 132.42 L143.01 132.08 L143.09 131.74 L143.17 131.40 L143.24 131.06 L143.32 130.71 L143.39 130.36 L143.46 130.01 L143.53 129.66 L143.60 129.31 L143.66 128.95 L143.73 128.59 L143.79 128.23 L143.85 127.87 L143.91 127.50 L143.97 127.13 L144.03 126.76 L144.08 126.39 L144.14 126.02 L144.19 125.65 L144.24 125.27 L144.29 124.90 L144.34 124.52 L144.39 124.14 L144.43 123.75 L144.48 123.37 L144.52 122.98 L144.56 122.59 L144.60 122.20 L144.64 121.81 L144.68 121.41 L144.71 121.01 L144.75 120.61 L144.78 120.20 L144.81 119.79 L144.86 119.38 L144.95 118.96 L145.04 118.54 L145.12 118.12 L145.21 117.69 L145.30 117.26 L145.38 116.82 L145.47 116.38 L145.55 115.94 L145.63 115.50 L145.71 115.05 L145.79 114.59 L145.87 114.13 L145.95 113.67 L146.03 113.20 L146.11 112.73 L146.18 112.25" stroke="#8c8c8c" stroke-width="0.8" fill="none" stroke-linejoin="round" stroke-linecap="round" />
<path d="M70.35 179.57 L72.67 179.35 L74.87 179.12 L76.96 178.89 L78.95 178.67 L80.85 178.45 L82.66 178.22 L84.39 177.99 L86.05 177.76 L87.64 177.52 L89.17 177.28 L90.64 177.03 L92.05 176.79 L93.42 176.55 L94.73 176.32 L96.00 176.09 L97.22 175.86 L98.40 175.64 L99.55 175.43 L100.65 175.22 L101.73 175.02 L102.77 174.83 L103.78 174.64 L104.76 174.45 L105.71 174.27 L106.63 174.09 L107.53 173.91 L108.40 173.73 L109.25 173.55 L110.07 173.38 L110.88 173.20 L111.66 173.02 L112.43 172.85 L113.17 172.67 L113.90 172.48 L114.61 172.30 L115.30 172.12 L115.97 171.93 L116.63 171.74 L117.27 171.55 L117.90 171.35 L118.52 171.16 L119.12 170.96 L119.70 170.76 L120.28 170.55 L120.84 170.35 L121.39 170.14 L121.93 169.94 L122.45 169.73 L122.97 169.51 L123.47 169.30 L123.97 169.08 L124.45 168.87 L124.93 168.65 L125.39 168.43 L125.85 168.20 L126.29 167.98 L126.73 167.75 L127.16 167.52 L127.58 167.29 L128.00 167.05 L128.40 166.82 L128.80 166.58 L129.19 166.34 L129.58 166.10 L129.95 165.85 L130.32 165.61 L130.68 165.36 L131.04 165.11 L131.39 164.85 L131.73 164.60 L132.07 164.34 L132.40 164.06 L132.73 163.77 L133.05 163.48 L133.37 163.17 L133.68 162.86 L133.98 162.53 L134.28 162.20 L134.57 161.87 L134.86 161.52 L135.15 161.18 L135.43 160.83 L135.70 160.47 L135.97 160.11 L136.24 159.75 L136.50 159.38 L136.76 159.01 L137.01 158.64 L137.26 158.27 L137.51 157.90 L137.75 157.53 L137.99 157.15 L138.22 156.78 L138.45 156.41 L138.68 156.03 L138.90 155.66 L139.12 155.29 L139.34 154.92 L139.55 154.55 L139.76 154.18 L139.97 153.81 L140.17 153.45 L140.37 153.09 L140.57 152.72 L140.77 152.37 L140.96 152.01 L141.15 151.65 L141.33 151.30 L141.52 150.95 L141.70 150.60 L141.87 150.26 L142.05 149.91 L142.22 149.57 L142.39 149.24 L142.56 148.90 L142.73 148.57 L142.89 148.24 L143.04 147.91 L143.18 147.59 L143.31 147.27 L143.43 146.95 L143.56 146.64 L143.68 146.33 L143.80 146.02 L143.92 145.72 L144.04 145.41 L144.16 145.11 L144.27 144.81 L144.39 144.51 L144.50 144.20 L144.60 143.89 L144.71 143.58 L144.82 143.27 L144.92 142.96 L145.02 142.64 L145.12 142.32 L145.21 142.00 L145.31 141.68 L145.40 141.36 L145.49 141.04 L145.58 140.71 L145.67 140.38 L145.76 140.05 L145.84 139.72 L145.92 139.38 L146.00 139.04 L146.08 138.70 L146.16 138.36 L146.24 138.02 L146.31 137.68 L146.38 137.33 L146.46 136.98 L146.53 136.63 L146.60 136.27 L146.66 135.92 L146.73 135.56 L146.79 135.20 L146.85 134.84 L146.92 134.47 L146.98 134.10 L147.04 133.73 L147.09 133.36 L147.15 132.99 L147.20 132.61 L147.26 132.23 L147.31 131.85 L147.36 131.47 L147.41 131.08 L147.46 130.69 L147.50 130.30 L147.55 129.91 L147.59 129.51 L147.64 129.12 L147.68 128.72 L147.72 128.31 L147.76 127.91 L147.80 127.50 L147.84 127.09 L147.87 126.68 L147.91 126.26 L147.94 125.84 L147.98 125.42 L148.05 125.00 L148.12 124.57 L148.18 124.14 L148.25 123.71 L148.31 123.28 L148.38 122.84 L148.44 122.40 L148.50 121.96 L148.56 121.51 L148.62 121.06 L148.68 120.61 L148.74 120.16 L148.80 119.70 L148.86 119.24 L148.91 118.78 L148.97 118.32" stroke="#8c8c8c" stroke-width="0.8" fill="none" stroke-linejoin="round" stroke-linecap="round" />
<path d="M69.65 182.40 L72.13 182.23 L74.47 182.06 L76.68 181.90 L78.78 181.74 L80.78 181.57 L82.68 181.41 L84.50 181.26 L86.23 181.10 L87.89 180.94 L89.48 180.78 L91.01 180.62 L92.48 180.46 L93.89 180.31 L95.25 180.15 L96.55 179.99 L97.81 179.83 L99.03 179.68 L100.21 179.52 L101.34 179.36 L102.44 179.19 L103.51 179.02 L104.54 178.84 L105.54 178.66 L106.51 178.48 L107.45 178.31 L108.37 178.13 L109.25 177.95 L110.11 177.78 L110.95 177.61 L111.77 177.45 L112.56 177.29 L113.34 177.14 L114.09 177.00 L114.82 176.86 L115.54 176.73 L116.23 176.61 L116.91 176.50 L117.57 176.40 L118.22 176.30 L118.85 176.20 L119.47 176.11 L120.07 176.02 L120.66 175.93 L121.23 175.84 L121.80 175.76 L122.35 175.67 L122.88 175.59 L123.41 175.51 L123.92 175.43 L124.43 175.35 L124.92 175.27 L125.40 175.19 L125.87 175.11 L126.33 175.03 L126.79 174.95 L127.23 174.86 L127.67 174.78 L128.09 174.69 L128.51 174.61 L128.92 174.52 L129.32 174.43 L129.71 174.34 L130.10 174.24 L130.48 174.15 L130.85 174.05 L131.21 173.95 L131.57 173.84 L131.92 173.72 L132.26 173.58 L132.60 173.44 L132.93 173.29 L133.26 173.14 L133.58 172.97 L133.89 172.80 L134.20 172.62 L134.51 172.44 L134.80 172.25 L135.10 172.06 L135.38 171.87 L135.67 171.67 L135.94 171.47 L136.22 171.26 L136.48 171.05 L136.75 170.85 L137.01 170.64 L137.26 170.42 L137.51 170.21 L137.76 170.00 L138.00 169.78 L138.24 169.57 L138.47 169.36 L138.70 169.14 L138.93 168.93 L139.15 168.72 L139.37 168.51 L139.59 168.30 L139.80 168.09 L140.01 167.88 L140.22 167.67 L140.42 167.47 L140.62 167.27 L140.81 167.07 L141.01 166.87 L141.20 166.67 L141.38 166.47 L141.57 166.28 L141.75 166.09 L141.93 165.90 L142.10 165.72 L142.28 165.53 L142.45 165.35 L142.62 165.17 L142.78 165.00 L142.94 164.83 L143.10 164.66 L143.26 164.49 L143.42 164.33 L143.57 164.16 L143.72 164.00 L143.87 163.84 L144.02 163.68 L144.16 163.52 L144.30 163.36 L144.44 163.20 L144.58 163.04 L144.72 162.88 L144.85 162.72 L144.98 162.55 L145.12 162.39 L145.24 162.23 L145.37 162.06 L145.49 161.90 L145.62 161.73 L145.74 161.57 L145.86 161.40 L145.98 161.23 L146.09 161.07 L146.21 160.90 L146.32 160.73 L146.43 160.56 L146.54 160.39 L146.65 160.22 L146.75 160.05 L146.85 159.88 L146.95 159.71 L147.04 159.54 L147.13 159.36 L147.22 159.19 L147.30 159.01 L147.39 158.84 L147.47 158.66 L147.56 158.48 L147.64 158.31 L147.72 158.13 L147.80 157.95 L147.88 157.77 L147.95 157.59 L148.03 157.40 L148.10 157.22 L148.18 157.03 L148.25 156.85 L148.32 156.66 L148.39 156.48 L148.46 156.29 L148.52 156.10 L148.59 155.91 L148.66 155.72 L148.72 155.52 L148.78 155.33 L148.84 155.14 L148.90 154.94 L148.96 154.74 L149.02 154.54 L149.08 154.35 L149.14 154.15 L149.19 153.94 L149.25 153.74 L149.30 153.54 L149.35 153.33 L149.40 153.12 L149.46 152.92 L149.51 152.71 L149.55 152.50 L149.60 152.28 L149.65 152.07 L149.70 151.86 L149.74 151.64 L149.79 151.42 L149.83 151.20 L149.87 150.98 L149.91 150.76 L149.96 150.54 L150.00 150.31 L150.04 150.09 L150.08 149.86 L150.11 149.63 L150.15 149.40 L150.19 149.16 L150.22 148.93 L150.26 148.69 L150.29 148.46 L150.33 148.22 L150.36 147.98 L150.39 147.73 L150.42 147.49 L150.45 147.24 L150.48 147.00 L150.51 146.75 L150.54 146.50 L150.57 146.24 L150.60 145.99 L150.62 145.73 L150.65 145.47 L150.68 145.21 L150.70 144.95 L150.72 144.69 L150.75 144.42 L150.77 144.15 L150.79 143.88 L150.82 143.61 L150.84 143.34 L150.86 143.06 L150.88 142.78 L150.90 142.50 L150.91 142.22 L150.93 141.94 L150.95 141.65 L150.97 141.36 L150.98 141.07 L151.00 140.78 L151.01 140.49 L151.03 140.19 L151.04 139.89 L151.06 139.59 L151.07 139.29 L151.08 138.98 L151.10 138.67 L151.11 138.36 L151.12 138.05 L151.13 137.74 L151.14 137.42 L151.17 137.10 L151.20 136.78 L151.23 136.46 L151.26 136.13 L151.28 135.80 L151.31 135.47 L151.34 135.14 L151.36 134.80 L151.39 134.46 L151.41 134.12 L151.44 133.78 L151.47 133.43 L151.49 133.08 L151.51 132.73 L151.54 132.38 L151.56 132.02 L151.59 131.66 L151.61 131.30 L151.63 130.93 L151.65 130.57 L151.68 130.20" stroke="#8c8c8c" stroke-width="0.8" fill="none" stroke-linejoin="round" stroke-linecap="round" />
<path d="M69.05 183.64 L71.53 183.50 L73.87 183.36 L76.08 183.22 L78.18 183.08 L80.18 182.95 L82.08 182.82 L83.90 182.69 L85.63 182.56 L87.29 182.44 L88.88 182.32 L90.41 182.20 L91.88 182.08 L93.29 181.96 L94.65 181.84 L95.95 181.72 L97.21 181.60 L98.43 181.47 L99.61 181.35 L100.74 181.22 L101.84 181.08 L102.91 180.92 L103.94 180.76 L104.94 180.60 L105.91 180.43 L106.85 180.25 L107.77 180.08 L108.65 179.91 L109.50 179.75 L110.34 179.58 L111.15 179.43 L111.93 179.28 L112.70 179.14 L113.45 179.00 L114.18 178.88 L114.89 178.77 L115.58 178.66 L116.25 178.57 L116.91 178.49 L117.56 178.40 L118.19 178.33 L118.80 178.26 L119.40 178.19 L119.98 178.12 L120.56 178.06 L121.12 177.99 L121.66 177.93 L122.20 177.87 L122.72 177.82 L123.23 177.76 L123.73 177.70 L124.22 177.65 L124.70 177.59 L125.17 177.53 L125.63 177.48 L126.08 177.42 L126.53 177.36 L126.96 177.30 L127.38 177.24 L127.80 177.18 L128.20 177.12 L128.60 177.06 L128.99 176.99 L129.38 176.93 L129.75 176.86 L130.12 176.79 L130.48 176.72 L130.84 176.64 L131.18 176.56 L131.52 176.47 L131.86 176.39 L132.19 176.29 L132.51 176.20 L132.82 176.10 L133.13 176.01 L133.44 175.90 L133.74 175.80 L134.03 175.70 L134.32 175.59 L134.60 175.48 L134.88 175.37 L135.15 175.26 L135.42 175.15 L135.69 175.04 L135.95 174.93 L136.20 174.81 L136.45 174.70 L136.70 174.59 L136.94 174.47 L137.18 174.36 L137.41 174.24 L137.64 174.13 L137.86 174.01 L138.09 173.90 L138.31 173.78 L138.52 173.67 L138.73 173.56 L138.94 173.44 L139.14 173.33 L139.35 173.22 L139.54 173.11 L139.74 173.00 L139.93 172.89 L140.12 172.78 L140.30 172.67 L140.49 172.56 L140.67 172.46 L140.84 172.35 L141.02 172.25 L141.19 172.14 L141.36 172.04 L141.53 171.94 L141.69 171.84 L141.85 171.74 L142.01 171.64 L142.17 171.55 L142.32 171.45 L142.47 171.36 L142.62 171.26 L142.77 171.17 L142.91 171.08 L143.06 170.98 L143.20 170.89 L143.34 170.80 L143.47 170.70 L143.61 170.61 L143.74 170.51 L143.87 170.42 L144.00 170.32 L144.12 170.23 L144.25 170.13 L144.37 170.04 L144.49 169.94 L144.61 169.85 L144.73 169.75 L144.84 169.65 L144.96 169.56 L145.07 169.46 L145.18 169.36 L145.29 169.26 L145.40 169.16 L145.50 169.06 L145.61 168.96 L145.71 168.86 L145.81 168.76 L145.91 168.66 L146.01 168.56 L146.10 168.46 L146.20 168.36 L146.29 168.25 L146.39 168.15 L146.48 168.05 L146.57 167.94 L146.65 167.84 L146.74 167.73 L146.83 167.63 L146.91 167.52 L147.00 167.41 L147.08 167.30 L147.16 167.20 L147.24 167.09 L147.32 166.98 L147.39 166.87 L147.47 166.76 L147.55 166.65 L147.62 166.53 L147.69 166.42 L147.76 166.31 L147.84 166.19 L147.91 166.08 L147.97 165.96 L148.04 165.85 L148.11 165.73 L148.17 165.61 L148.24 165.49 L148.30 165.37 L148.37 165.25 L148.43 165.13 L148.49 165.01 L148.55 164.89 L148.61 164.76 L148.67 164.64 L148.72 164.51 L148.78 164.39 L148.84 164.26 L148.89 164.13 L148.94 164.00 L149.00 163.87 L149.05 163.74 L149.10 163.61 L149.15 163.48 L149.20 163.35 L149.25 163.21 L149.30 163.08 L149.35 162.94 L149.40 162.80 L149.44 162.66 L149.49 162.52 L149.53 162.38 L149.58 162.24 L149.62 162.10 L149.66 161.96 L149.71 161.81 L149.75 161.67 L149.79 161.52 L149.83 161.37 L149.87 161.22 L149.91 161.07 L149.95 160.92 L149.98 160.77 L150.02 160.61 L150.06 160.46 L150.09 160.30 L150.13 160.14 L150.16 159.98 L150.20 159.82 L150.23 159.66 L150.26 159.50 L150.30 159.33 L150.33 159.17 L150.36 159.00 L150.39 158.83 L150.42 158.66 L150.45 158.49 L150.48 158.32 L150.51 158.15 L150.54 157.97 L150.56 157.80 L150.59 157.62 L150.62 157.44 L150.65 157.26 L150.69 157.08 L150.72 156.89 L150.75 156.71 L150.78 156.52 L150.81 156.33 L150.84 156.15 L150.88 155.95 L150.91 155.76 L150.94 155.57 L150.96 155.37 L150.99 155.17 L151.02 154.98 L151.05 154.77 L151.08 154.57 L151.11 154.37 L151.13 154.16 L151.16 153.96 L151.19 153.75 L151.21 153.54 L151.24 153.32 L151.26 153.11 L151.29 152.90 L151.32 152.68 L151.34 152.46 L151.36 152.24 L151.39 152.02 L151.41 151.79 L151.44 151.56 L151.46 151.34 L151.48 151.11 L151.50 150.87 L151.53 150.64 L151.55 150.41 L151.57 150.17" stroke="#8c8c8c" stroke-width="0.8" fill="none" stroke-linejoin="round" stroke-linecap="round" />
<path d="M24.60 185.46 L37.89 185.21 L48.25 184.95 L56.69 184.70 L63.79 184.45 L69.89 184.20 L75.22 183.96 L79.93 183.72 L84.14 183.48 L87.94 183.25 L91.39 183.01 L94.54 182.79 L97.44 182.56 L100.11 182.34 L102.59 182.14 L104.89 181.93 L107.03 181.74 L109.03 181.56 L110.91 181.38 L112.68 181.21 L114.34 181.05 L115.91 180.90 L117.39 180.76 L118.79 180.62 L120.11 180.48 L121.37 180.35 L122.57 180.22 L123.70 180.10 L124.79 179.98 L125.82 179.86 L126.80 179.75 L127.74 179.64 L128.64 179.53 L129.50 179.43 L130.32 179.33 L131.10 179.24 L131.86 179.14 L132.58 179.05 L133.27 178.96 L133.94 178.88 L134.58 178.79 L135.19 178.71 L135.78 178.63 L136.34 178.56 L136.89 178.48 L137.41 178.41 L137.92 178.34 L138.41 178.27 L138.87 178.21 L139.33 178.14 L139.76 178.08 L140.18 178.02 L140.58 177.96 L140.98 177.91 L141.35 177.85 L141.72 177.80 L142.07 177.74 L142.41 177.69 L142.73 177.64 L143.05 177.59 L143.36 177.55 L143.65 177.50 L143.94 177.46 L144.21 177.42 L144.48 177.37 L144.74 177.33 L144.99 177.30 L145.23 177.26 L145.47 177.22 L145.69 177.18 L145.91 177.15 L146.12 177.11 L146.33 177.08 L146.53 177.05 L146.72 177.02 L146.91 176.99 L147.09 176.96 L147.26 176.93 L147.43 176.90 L147.60 176.87 L147.76 176.84 L147.91 176.82 L148.06 176.79 L148.21 176.76 L148.35 176.74 L148.48 176.71 L148.62 176.69 L148.75 176.66 L148.87 176.64 L148.99 176.62 L149.11 176.60 L149.22 176.57 L149.33 176.55 L149.44 176.53 L149.54 176.51 L149.64 176.49 L149.74 176.47 L149.83 176.45 L149.93 176.42 L150.01 176.40 L150.10 176.38 L150.19 176.36 L150.27 176.34 L150.35 176.33 L150.42 176.31 L150.50 176.29 L150.57 176.27 L150.64 176.25 L150.71 176.23 L150.77 176.21 L150.84 176.19 L150.90 176.17 L150.96 176.15 L151.02 176.13 L151.08 176.11 L151.13 176.09 L151.18 176.07 L151.24 176.05 L151.29 176.03 L151.34 176.01 L151.38 175.98 L151.43 175.96 L151.48 175.94 L151.52 175.91 L151.56 175.89 L151.60 175.87 L151.64 175.84 L151.68 175.82 L151.72 175.79 L151.76 175.76 L151.79 175.74 L151.83 175.71 L151.86 175.68 L151.89 175.66 L151.93 175.63 L151.96 175.60 L151.99 175.57 L152.02 175.54 L152.04 175.51 L152.07 175.48 L152.10 175.45 L152.12 175.41 L152.15 175.38 L152.17 175.35 L152.20 175.31 L152.22 175.28 L152.24 175.24 L152.27 175.20 L152.29 175.17 L152.31 175.13 L152.33 175.09 L152.35 175.05 L152.37 175.01 L152.38 174.97 L152.40 174.92 L152.42 174.88 L152.44 174.83 L152.45 174.79 L152.47 174.74 L152.48 174.69" stroke="#ff0000" stroke-width="1.6" fill="none" stroke-linejoin="round" stroke-linecap="round" />
<path d="M24.60 185.47 L27.94 185.40 L31.17 185.33 L34.31 185.25 L37.36 185.18 L40.32 185.10 L43.21 185.02 L46.02 184.94 L48.75 184.86 L51.42 184.77 L54.02 184.69 L56.57 184.60 L59.05 184.51 L61.47 184.42 L63.84 184.32 L66.16 184.23 L68.43 184.13 L70.66 184.03 L72.84 183.93 L74.97 183.83 L77.06 183.72 L79.11 183.62 L81.13 183.51 L83.10 183.40 L85.04 183.29 L86.95 183.18 L88.82 183.06 L90.66 182.95 L92.47 182.83 L94.25 182.71 L96.00 182.59 L97.72 182.47 L99.41 182.35 L101.08 182.22 L102.72 182.10 L104.34 181.97 L105.93 181.84 L107.50 181.71 L109.05 181.58 L110.57 181.45 L112.07 181.31 L113.55 181.18 L115.02 181.04 L116.46 180.90 L117.88 180.76 L119.28 180.62 L120.67 180.48 L122.04 180.33 L123.39 180.19 L124.72 180.04 L126.04 179.90 L127.34 179.75 L128.63 179.60 L129.90 179.45 L131.15 179.30 L132.39 179.14 L133.62 178.99 L134.83 178.84 L136.03 178.68 L137.21 178.52 L138.39 178.36 L139.55 178.21 L140.69 178.05 L141.83 177.88 L142.95 177.72 L144.06 177.56 L145.16 177.39 L146.25 177.23 L147.33 177.06 L148.40 176.90 L149.45 176.73 L150.50 176.56 L151.53 176.39 L152.56 176.22 L153.58 176.05 L154.58 175.88 L155.58 175.70 L156.57 175.53 L157.55 175.36 L158.52 175.18 L159.48 175.00 L160.43 174.83 L161.37 174.65 L162.31 174.47 L163.24 174.29 L164.16 174.11 L165.07 173.93 L165.97 173.75 L166.87 173.57 L167.76 173.38 L168.64 173.20 L169.51 173.02 L170.38 172.83 L171.24 172.64 L172.10 172.46 L172.94 172.27 L173.78 172.08 L174.62 171.89 L175.44 171.71 L176.26 171.52 L177.08 171.33 L177.89 171.14 L178.69 170.94 L179.48 170.75 L180.27 170.56 L181.06 170.37 L181.84 170.17 L182.61 169.98 L183.38 169.78 L184.14 169.59 L184.90 169.39 L185.65 169.20 L186.39 169.00 L187.13 168.80 L187.87 168.60 L188.60 168.41 L189.33 168.21 L190.05 168.01 L190.76 167.81 L191.47 167.61 L192.18 167.41 L192.88 167.21 L193.58 167.00 L194.27 166.80 L194.96 166.60 L195.64 166.40 L196.32 166.19 L197.00 165.99 L197.67 165.79 L198.34 165.58 L199.00 165.38 L199.66 165.17 L200.31 164.96 L200.96 164.76 L201.61 164.55 L202.25 164.34 L202.89 164.14 L203.53 163.93 L204.16 163.72 L204.78 163.51 L205.41 163.30 L206.03 163.09 L206.65 162.88 L207.26 162.67 L207.87 162.46 L208.47 162.25 L209.08 162.04 L209.68 161.83 L210.27 161.62 L210.86 161.41" stroke="#000" stroke-width="2.8" fill="none" stroke-linejoin="round" stroke-linecap="round" />
<path d="M149.99 176.01 L150.17 175.97 L150.34 175.93 L150.49 175.89 L150.64 175.85 L150.78 175.81 L150.91 175.77 L151.03 175.73 L151.15 175.68 L151.26 175.64 L151.36 175.59 L151.46 175.55 L151.55 175.50 L151.63 175.45 L151.71 175.39 L151.79 175.34 L151.86 175.28 L151.93 175.23 L151.99 175.17 L152.05 175.10 L152.11 175.04 L152.16 174.97 L152.21 174.90 L152.26 174.82 L152.30 174.74 L152.34 174.66 L152.38 174.58 L152.42 174.49 L152.45 174.39 L152.48 174.29" stroke="#ff0000" stroke-width="1.6" fill="none" stroke-linejoin="round" stroke-linecap="round" />
<path d="M24.60 185.46 L36.67 185.23 L46.28 185.00 L54.23 184.76 L60.98 184.52 L66.84 184.29 L71.98 184.07 L76.56 183.85 L80.68 183.63 L84.40 183.40 L87.80 183.16 L90.92 182.92 L93.80 182.68 L96.46 182.44 L98.93 182.22 L101.23 181.99 L103.38 181.76 L105.40 181.53 L107.30 181.31 L109.09 181.10 L110.77 180.90 L112.37 180.71 L113.88 180.54 L115.31 180.39 L116.67 180.24 L117.96 180.11 L119.19 179.97 L120.37 179.85 L121.49 179.73 L122.56 179.61 L123.58 179.49 L124.56 179.38 L125.49 179.27 L126.39 179.17 L127.25 179.06 L128.08 178.96 L128.87 178.86 L129.63 178.76 L130.36 178.67 L131.07 178.58 L131.75 178.48 L132.40 178.40 L133.03 178.31 L133.63 178.22 L134.22 178.14 L134.78 178.06 L135.32 177.98 L135.85 177.91 L136.35 177.83 L136.84 177.76 L137.32 177.69 L137.77 177.62 L138.21 177.55 L138.64 177.48 L139.05 177.42 L139.45 177.36 L139.84 177.30 L140.21 177.24 L140.58 177.18 L140.93 177.12 L141.27 177.07 L141.60 177.01 L141.92 176.96 L142.22 176.91 L142.52 176.87 L142.81 176.83 L143.10 176.79 L143.37 176.76 L143.63 176.73 L143.89 176.70 L144.14 176.67 L144.38 176.65 L144.62 176.62 L144.85 176.60 L145.07 176.58 L145.28 176.56 L145.49 176.54 L145.69 176.52 L145.89 176.51 L146.08 176.49 L146.27 176.47 L146.45 176.46 L146.62 176.44 L146.79 176.43 L146.96 176.41 L147.12 176.39 L147.28 176.38 L147.43 176.36 L147.58 176.35 L147.72 176.33 L147.86 176.31 L148.00 176.29 L148.13 176.27 L148.26 176.25 L148.38 176.23 L148.50 176.21 L148.62 176.19 L148.74 176.17 L148.85 176.15 L148.96 176.12 L149.06 176.10 L149.17 176.08 L149.27 176.06 L149.36 176.04 L149.46 176.02 L149.55 175.99 L149.64 175.97 L149.73 175.95 L149.81 175.93 L149.90 175.90 L149.98 175.88 L150.06 175.85 L150.13 175.83 L150.21 175.80 L150.28 175.78 L150.35 175.75 L150.42 175.72 L150.49 175.69 L150.55 175.66 L150.61 175.63 L150.68 175.59 L150.74 175.56 L150.79 175.51 L150.85 175.47 L150.91 175.42 L150.96 175.37 L151.01 175.31 L151.07 175.25 L151.12 175.18 L151.16 175.11 L151.21 175.04 L151.26 174.96 L151.30 174.88 L151.35 174.79 L151.39 174.70 L151.43 174.60 L151.47 174.50 L151.51 174.40 L151.55 174.29 L151.59 174.17 L151.62 174.05 L151.66 173.93 L151.69 173.80 L151.73 173.67 L151.76 173.53 L151.79 173.39 L151.82 173.24 L151.85 173.03 L151.88 172.78 L151.91 172.48 L151.94 172.15 L151.97 171.79 L151.99 171.40 L152.02 170.98 L152.05 170.55 L152.07 170.11 L152.09 169.66 L152.12 169.20 L152.14 168.74 L152.16 168.28" stroke="#00dd00" stroke-width="1.8" fill="none" stroke-linejoin="round" stroke-linecap="round" />
<path d="M24.60 185.35 L35.93 185.01 L45.06 184.69 L52.69 184.38 L59.21 184.09 L64.90 183.80 L69.92 183.52 L74.40 183.25 L78.45 182.98 L82.12 182.73 L85.48 182.49 L88.57 182.25 L91.42 182.02 L94.07 181.78 L96.53 181.54 L98.83 181.30 L100.99 181.03 L103.01 180.72 L104.92 180.39 L106.71 180.05 L108.41 179.73 L110.02 179.42 L111.55 179.13 L112.99 178.88 L114.37 178.67 L115.68 178.50 L116.93 178.34 L118.13 178.20 L119.27 178.07 L120.36 177.95 L121.40 177.84 L122.40 177.73 L123.36 177.62 L124.28 177.51 L125.17 177.40 L126.01 177.28 L126.83 177.17 L127.62 177.04 L128.37 176.91 L129.10 176.78 L129.80 176.63 L130.48 176.47 L131.13 176.30 L131.76 176.11 L132.37 175.92 L132.95 175.71 L133.52 175.51 L134.07 175.29 L134.60 175.08 L135.11 174.86 L135.61 174.63 L136.09 174.41 L136.55 174.19 L137.00 173.96 L137.44 173.74 L137.86 173.52 L138.27 173.30 L138.66 173.08 L139.05 172.87 L139.42 172.66 L139.78 172.45 L140.13 172.25 L140.47 172.05 L140.80 171.85 L141.12 171.66 L141.43 171.47 L141.73 171.28 L142.03 171.10 L142.31 170.92 L142.59 170.74 L142.86 170.56 L143.12 170.37 L143.37 170.19 L143.62 170.00 L143.86 169.81 L144.09 169.62 L144.32 169.43 L144.54 169.24 L144.76 169.05 L144.96 168.85 L145.17 168.66 L145.37 168.46 L145.56 168.26 L145.74 168.06 L145.93 167.85 L146.10 167.65 L146.28 167.44 L146.44 167.23 L146.61 167.02 L146.77 166.80 L146.92 166.59 L147.07 166.37 L147.22 166.14 L147.36 165.92 L147.50 165.69 L147.64 165.46 L147.77 165.23 L147.90 164.99 L148.02 164.75 L148.15 164.51 L148.27 164.26 L148.38 164.01 L148.50 163.76 L148.61 163.50 L148.71 163.24 L148.82 162.97 L148.92 162.70 L149.02 162.43 L149.12 162.16 L149.21 161.88 L149.30 161.59 L149.39 161.30 L149.48 161.01 L149.57 160.71 L149.65 160.41 L149.73 160.10 L149.81 159.79 L149.89 159.47 L149.96 159.15 L150.04 158.83 L150.11 158.49 L150.18 158.16 L150.25 157.82 L150.31 157.47 L150.38 157.12 L150.44 156.76 L150.50 156.39 L150.56 156.02 L150.62 155.65 L150.68 155.27 L150.74 154.88 L150.79 154.48 L150.84 154.08 L150.90 153.68 L150.95 153.27 L151.00 152.85 L151.04 152.42 L151.09 151.99 L151.14 151.55 L151.18 151.10 L151.23 150.65 L151.27 150.19 L151.31 149.72 L151.35 149.24 L151.39 148.76 L151.43 148.27 L151.47 147.77 L151.50 147.27 L151.54 146.75 L151.57 146.23 L151.61 145.70 L151.64 145.16 L151.67 144.62 L151.71 144.06 L151.74 143.50 L151.77 142.93 L151.80 142.35 L151.83 141.76 L151.85 141.16 L151.88 140.56" stroke="#0000ff" stroke-width="1.8" fill="none" stroke-linejoin="round" stroke-linecap="round" />
<path d="M24.60 184.32 L35.93 183.96 L45.06 183.61 L52.69 183.26 L59.21 182.92 L64.90 182.59 L69.92 182.26 L74.40 181.94 L78.45 181.62 L82.12 181.31 L85.48 181.00 L88.57 180.69 L91.42 180.38 L94.07 180.07 L96.53 179.77 L98.83 179.46 L100.99 179.14 L103.01 178.80 L104.92 178.45 L106.71 178.10 L108.41 177.76 L110.02 177.44 L111.55 177.14 L112.99 176.87 L114.37 176.62 L115.68 176.41 L116.93 176.22 L118.13 176.04 L119.27 175.87 L120.36 175.70 L121.40 175.54 L122.40 175.39 L123.36 175.23 L124.28 175.07 L125.17 174.91 L126.01 174.75 L126.83 174.58 L127.62 174.41 L128.37 174.23 L129.10 174.04 L129.80 173.83 L130.48 173.58 L131.13 173.30 L131.76 172.98 L132.37 172.64 L132.95 172.28 L133.52 171.91 L134.07 171.52 L134.60 171.12 L135.11 170.71 L135.61 170.30 L136.09 169.89 L136.55 169.47 L137.00 169.05 L137.44 168.64 L137.86 168.23 L138.27 167.82 L138.66 167.42 L139.05 167.03 L139.42 166.65 L139.78 166.27 L140.13 165.90 L140.47 165.54 L140.80 165.19 L141.12 164.85 L141.43 164.52 L141.73 164.20 L142.03 163.89 L142.31 163.58 L142.59 163.26 L142.86 162.95 L143.12 162.63 L143.37 162.32 L143.62 162.00 L143.86 161.67 L144.09 161.35 L144.32 161.03 L144.54 160.70 L144.76 160.37 L144.96 160.04 L145.17 159.70 L145.37 159.36 L145.56 159.02 L145.74 158.68 L145.93 158.33 L146.10 157.99 L146.28 157.63 L146.44 157.28 L146.61 156.92 L146.77 156.55 L146.92 156.19 L147.07 155.82 L147.22 155.44 L147.36 155.06 L147.50 154.68 L147.64 154.29 L147.77 153.90 L147.90 153.50 L148.02 153.10 L148.15 152.69 L148.27 152.28 L148.38 151.86 L148.50 151.44 L148.61 151.01 L148.71 150.58 L148.82 150.14 L148.92 149.69 L149.02 149.24 L149.12 148.79 L149.21 148.32 L149.30 147.85 L149.39 147.38 L149.48 146.90 L149.57 146.41 L149.65 145.91 L149.73 145.41 L149.81 144.90 L149.89 144.38 L149.96 143.86 L150.04 143.32 L150.11 142.79 L150.18 142.24 L150.25 141.68 L150.31 141.12 L150.38 140.55 L150.44 139.97 L150.50 139.38 L150.56 138.79 L150.62 138.18 L150.68 137.57 L150.74 136.95 L150.79 136.31 L150.84 135.67 L150.90 135.02 L150.95 134.37 L151.00 133.70 L151.04 133.02 L151.09 132.33 L151.14 131.63 L151.18 130.93 L151.23 130.21 L151.27 129.48 L151.31 128.74 L151.35 127.99 L151.39 127.23 L151.43 126.46 L151.47 125.68 L151.50 124.88 L151.54 124.08 L151.57 123.26 L151.61 122.43 L151.64 121.59 L151.67 120.74 L151.71 119.88 L151.74 119.00 L151.77 118.12 L151.80 117.22 L151.83 116.30 L151.85 115.38 L151.88 114.44" stroke="#00ffff" stroke-width="1.8" fill="none" stroke-linejoin="round" stroke-linecap="round" />
<path d="M24.60 182.25 L35.30 181.81 L44.02 181.36 L51.37 180.90 L57.69 180.45 L63.22 180.00 L68.12 179.55 L72.52 179.10 L76.50 178.67 L80.12 178.23 L83.44 177.77 L86.50 177.30 L89.33 176.83 L91.96 176.37 L94.41 175.92 L96.70 175.49 L98.86 175.09 L100.88 174.71 L102.79 174.35 L104.59 174.00 L106.30 173.65 L107.91 173.30 L109.45 172.96 L110.91 172.61 L112.30 172.25 L113.63 171.89 L114.89 171.51 L116.10 171.13 L117.26 170.74 L118.36 170.34 L119.43 169.94 L120.44 169.52 L121.42 169.11 L122.36 168.68 L123.26 168.24 L124.13 167.80 L124.97 167.35 L125.77 166.89 L126.55 166.43 L127.29 165.96 L128.02 165.47 L128.71 164.98 L129.38 164.48 L130.03 163.95 L130.66 163.37 L131.27 162.76 L131.85 162.12 L132.42 161.45 L132.97 160.77 L133.50 160.07 L134.02 159.36 L134.52 158.64 L135.00 157.91 L135.47 157.18 L135.92 156.45 L136.37 155.72 L136.79 155.00 L137.21 154.28 L137.61 153.56 L138.00 152.85 L138.38 152.15 L138.75 151.46 L139.11 150.77 L139.46 150.10 L139.79 149.43 L140.12 148.78 L140.44 148.13 L140.75 147.50 L141.06 146.88 L141.35 146.27 L141.64 145.67 L141.91 145.08 L142.18 144.49 L142.45 143.89 L142.70 143.28 L142.95 142.67 L143.20 142.05 L143.43 141.42 L143.66 140.79 L143.89 140.14 L144.10 139.49 L144.32 138.83 L144.52 138.16 L144.73 137.49 L144.92 136.81 L145.12 136.12 L145.30 135.42 L145.48 134.71 L145.66 133.99 L145.83 133.27 L146.00 132.53 L146.17 131.79 L146.33 131.04 L146.48 130.28 L146.64 129.51 L146.79 128.73 L146.93 127.94 L147.07 127.14 L147.21 126.33 L147.34 125.51 L147.48 124.68 L147.60 123.84 L147.73 122.99 L147.85 122.13 L147.97 121.26 L148.09 120.38 L148.20 119.49 L148.31 118.59 L148.42 117.67 L148.52 116.75 L148.63 115.81 L148.73 114.87 L148.83 113.91 L148.92 112.94 L149.01 111.95 L149.11 110.96 L149.20 109.95 L149.28 108.96 L149.37 107.98 L149.45 107.01 L149.53 106.06 L149.61 105.11 L149.69 104.17 L149.76 103.23 L149.84 102.30 L149.91 101.37 L149.98 100.44 L150.05 99.52 L150.11 98.58 L150.18 97.65 L150.24 96.71 L150.31 95.77 L150.37 94.82 L150.43 93.87 L150.49 92.90 L150.54 91.93 L150.60 90.95 L150.65 89.96 L150.71 88.96 L150.76 87.94 L150.81 86.92 L150.86 85.88 L150.91 84.83 L150.95 83.76 L151.00 82.68 L151.05 81.59 L151.09 80.48 L151.13 79.35 L151.17 78.21 L151.22 77.05 L151.26 75.88 L151.30 74.69 L151.33 73.48 L151.37 72.25 L151.41 71.00 L151.44 69.74 L151.48 68.46 L151.51 67.15 L151.55 65.83 L151.58 64.49" stroke="#ff00ff" stroke-width="1.8" fill="none" stroke-linejoin="round" stroke-linecap="round" />
<path d="M24.60 179.96 L33.25 179.41 L40.56 178.89 L46.89 178.38 L52.45 177.88 L57.40 177.40 L61.86 176.93 L65.90 176.47 L69.60 176.02 L72.99 175.57 L76.13 175.13 L79.05 174.70 L81.77 174.28 L84.31 173.87 L86.69 173.47 L88.93 173.08 L91.05 172.68 L93.05 172.27 L94.95 171.85 L96.74 171.41 L98.46 170.96 L100.08 170.48 L101.64 169.97 L103.12 169.43 L104.54 168.87 L105.90 168.29 L107.20 167.69 L108.45 167.09 L109.65 166.47 L110.80 165.85 L111.91 165.23 L112.98 164.60 L114.00 163.97 L115.00 163.34 L115.95 162.69 L116.88 162.00 L117.77 161.28 L118.63 160.53 L119.46 159.78 L120.27 159.01 L121.05 158.23 L121.81 157.46 L122.54 156.69 L123.25 155.93 L123.94 155.18 L124.61 154.44 L125.26 153.71 L125.89 153.00 L126.50 152.31 L127.10 151.63 L127.68 150.98 L128.24 150.35 L128.78 149.74 L129.31 149.16 L129.83 148.58 L130.33 148.01 L130.82 147.45 L131.30 146.89 L131.77 146.33 L132.22 145.78 L132.66 145.22 L133.09 144.67 L133.51 144.11 L133.92 143.55 L134.31 142.99 L134.70 142.43 L135.08 141.86 L135.45 141.29 L135.81 140.72 L136.17 140.14 L136.51 139.56 L136.84 138.97 L137.17 138.38 L137.49 137.78 L137.81 137.17 L138.11 136.56 L138.41 135.94 L138.70 135.32 L138.99 134.68 L139.27 134.04 L139.54 133.40 L139.80 132.74 L140.06 132.08 L140.32 131.40 L140.57 130.72 L140.81 130.04 L141.05 129.34 L141.28 128.63 L141.51 127.92 L141.73 127.19 L141.95 126.46 L142.17 125.73 L142.37 124.99 L142.58 124.24 L142.78 123.48 L142.98 122.72 L143.17 121.95 L143.36 121.16 L143.54 120.36 L143.72 119.55 L143.90 118.73 L144.07 117.90 L144.24 117.04 L144.40 116.18 L144.57 115.30 L144.73 114.40 L144.88 113.49 L145.03 112.56 L145.18 111.61 L145.33 110.64 L145.48 109.60 L145.62 108.46 L145.75 107.25 L145.89 105.97 L146.02 104.62 L146.15 103.22 L146.28 101.76 L146.40 100.26 L146.53 98.72 L146.65 97.14 L146.76 95.53 L146.88 93.90 L146.99 92.24 L147.10 90.56 L147.21 88.87 L147.32 87.16 L147.42 85.44 L147.53 83.72 L147.63 81.98 L147.73 80.24 L147.82 78.50 L147.92 76.76 L148.01 75.02 L148.10 73.27 L148.19 71.53 L148.28 69.80 L148.37 68.07 L148.45 66.34 L148.53 64.62 L148.61 62.90 L148.69 61.19 L148.77 59.48 L148.85 57.77 L148.92 56.06 L149.00 54.33 L149.07 52.59 L149.14 50.85 L149.21 49.09 L149.28 47.33 L149.35 45.55 L149.41 43.76 L149.48 41.97 L149.54 40.16 L149.61 38.33 L149.67 36.50 L149.73 34.65 L149.79 32.80 L149.84 30.93 L149.90 29.04 L149.96 27.15" stroke="#e8cc40" stroke-width="1.8" fill="none" stroke-linejoin="round" stroke-linecap="round" />
<path d="M196.27 165.91 L196.81 165.75 L197.34 165.59 L197.87 165.42 L198.40 165.26 L198.93 165.10 L199.46 164.93 L199.98 164.77 L200.50 164.61 L201.01 164.44 L201.53 164.28 L202.04 164.11 L202.55 163.95 L203.06 163.78 L203.56 163.62 L204.07 163.45 L204.57 163.28 L205.06 163.12 L205.56 162.95 L206.05 162.78 L206.54 162.62 L207.03 162.45 L207.52 162.28 L208.00 162.12 L208.49 161.95 L208.97 161.78 L209.44 161.61 L209.92 161.44 L210.39 161.27 L210.86 161.11" stroke="#ff0000" stroke-width="1.6" fill="none" stroke-linejoin="round" stroke-linecap="round" />
<circle cx="210.86" cy="161.41" r="1.1" fill="#00dd00"/>
<circle cx="158.2" cy="175.8" r="1.2" fill="#ff0000"/>
<circle cx="156.6" cy="193.8" r="1.2" fill="#0000ff"/>
<circle cx="163.6" cy="194.4" r="1.2" fill="#00ffff"/>
</g>
<g clip-path="url(#cc)">
<path d="M616.40 235.42 L625.03 228.00 L632.34 221.59 L638.65 215.95 L644.20 210.90 L649.15 206.33 L653.60 202.15 L657.63 198.30 L661.32 194.73 L664.71 191.40 L667.85 188.28 L670.76 185.35 L673.47 182.59 L676.01 180.00 L678.39 177.54 L680.63 175.20 L682.74 172.94 L684.74 170.77 L686.63 168.65 L688.43 166.59 L690.13 164.57 L691.76 162.57 L693.31 160.58 L694.79 158.60 L696.21 156.65 L697.57 154.72 L698.86 152.82 L700.11 150.95 L701.31 149.12 L702.46 147.33 L703.57 145.57 L704.63 143.85 L705.66 142.17 L706.65 140.53 L707.60 138.90 L708.53 137.25 L709.42 135.59 L710.28 133.94 L711.11 132.30 L711.92 130.68 L712.70 129.09 L713.45 127.53 L714.18 126.01 L714.89 124.53 L715.58 123.09 L716.25 121.69 L716.90 120.33 L717.53 119.02 L718.14 117.75 L718.73 116.53 L719.31 115.35 L719.87 114.21 L720.41 113.12 L720.94 112.08 L721.46 111.06 L721.96 110.07 L722.45 109.09 L722.93 108.14 L723.39 107.20 L723.84 106.27 L724.28 105.36 L724.71 104.46 L725.13 103.58 L725.54 102.70 L725.94 101.84 L726.32 100.98 L726.70 100.13 L727.07 99.29 L727.43 98.46 L727.78 97.63 L728.13 96.81 L728.46 95.99 L728.79 95.18 L729.11 94.37 L729.42 93.57 L729.73 92.77 L730.02 91.97 L730.32 91.18 L730.60 90.39 L730.88 89.60 L731.15 88.81 L731.42 88.03 L731.68 87.25 L731.93 86.47 L732.18 85.69 L732.42 84.91 L732.66 84.13 L732.89 83.36 L733.12 82.59 L733.34 81.81 L733.56 81.04 L733.77 80.28 L733.98 79.52 L734.19 78.76 L734.39 78.00 L734.58 77.25 L734.77 76.49 L734.96 75.74 L735.15 74.98 L735.33 74.22 L735.50 73.47 L735.67 72.70 L735.84 71.94 L736.01 71.17 L736.17 70.40 L736.33 69.63 L736.49 68.85 L736.64 68.07 L736.79 67.28 L736.93 66.49 L737.08 65.65 L737.22 64.76 L737.36 63.83 L737.49 62.86 L737.62 61.87 L737.75 60.84 L737.88 59.80 L738.01 58.74 L738.13 57.68 L738.25 56.60 L738.37 55.52 L738.48 54.44 L738.59 53.36 L738.70 52.28 L738.81 51.21 L738.92 50.15 L739.02 49.10 L739.13 48.05 L739.23 47.02 L739.32 46.00 L739.42 44.98 L739.52 43.99 L739.61 43.00 L739.70 42.03 L739.79 41.07 L739.88 40.13 L739.96 39.20 L740.05 38.28 L740.13 37.38 L740.21 36.49 L740.29 35.61 L740.37 34.75 L740.45 33.89 L740.52 33.04 L740.60 32.20 L740.67 31.36 L740.74 30.53 L740.81 29.70 L740.88 28.88 L740.95 28.06 L741.01 27.24 L741.08 26.43 L741.14 25.63 L741.20 24.82 L741.26 24.03 L741.32 23.23 L741.38 22.44 L741.44 21.65 L741.50 20.87 L741.55 20.08" stroke="#8c8c8c" stroke-width="0.8" fill="none" stroke-linejoin="round" stroke-linecap="round" />
<path d="M616.40 245.51 L625.03 237.42 L632.34 230.43 L638.65 224.27 L644.20 218.77 L649.15 213.79 L653.60 209.24 L657.63 205.05 L661.32 201.18 L664.71 197.56 L667.85 194.18 L670.76 191.01 L673.47 188.03 L676.01 185.23 L678.39 182.58 L680.63 180.06 L682.74 177.64 L684.74 175.30 L686.63 173.03 L688.43 170.82 L690.13 168.66 L691.76 166.52 L693.31 164.39 L694.79 162.29 L696.21 160.21 L697.57 158.16 L698.86 156.14 L700.11 154.16 L701.31 152.22 L702.46 150.32 L703.57 148.46 L704.63 146.65 L705.66 144.88 L706.65 143.15 L707.60 141.43 L708.53 139.70 L709.42 137.96 L710.28 136.23 L711.11 134.52 L711.92 132.84 L712.70 131.18 L713.45 129.56 L714.18 127.97 L714.89 126.43 L715.58 124.93 L716.25 123.48 L716.90 122.07 L717.53 120.71 L718.14 119.40 L718.73 118.13 L719.31 116.91 L719.87 115.73 L720.41 114.60 L720.94 113.52 L721.46 112.46 L721.96 111.43 L722.45 110.43 L722.93 109.44 L723.39 108.46 L723.84 107.51 L724.28 106.57 L724.71 105.64 L725.13 104.72 L725.54 103.82 L725.94 102.93 L726.32 102.04 L726.70 101.17 L727.07 100.30 L727.43 99.44 L727.78 98.59 L728.13 97.74 L728.46 96.90 L728.79 96.06 L729.11 95.23 L729.42 94.41 L729.73 93.58 L730.02 92.76 L730.32 91.95 L730.60 91.14 L730.88 90.33 L731.15 89.52 L731.42 88.72 L731.68 87.92 L731.93 87.12 L732.18 86.32 L732.42 85.52 L732.66 84.73 L732.89 83.94 L733.12 83.15 L733.34 82.36 L733.56 81.57 L733.77 80.79 L733.98 80.01 L734.19 79.24 L734.39 78.47 L734.58 77.70 L734.77 76.93 L734.96 76.16 L735.15 75.39 L735.33 74.62 L735.50 73.84 L735.67 73.07 L735.84 72.29 L736.01 71.51 L736.17 70.73 L736.33 69.94 L736.49 69.15 L736.64 68.36 L736.79 67.56 L736.93 66.76 L737.08 65.91 L737.22 65.01 L737.36 64.07 L737.49 63.09 L737.62 62.09 L737.75 61.05 L737.88 60.00 L738.01 58.93 L738.13 57.86 L738.25 56.77 L738.37 55.69 L738.48 54.60 L738.59 53.51 L738.70 52.43 L738.81 51.35 L738.92 50.28 L739.02 49.22 L739.13 48.17 L739.23 47.13 L739.32 46.10 L739.42 45.08 L739.52 44.08 L739.61 43.09 L739.70 42.11 L739.79 41.15 L739.88 40.20 L739.96 39.26 L740.05 38.34 L740.13 37.44 L740.21 36.54 L740.29 35.66 L740.37 34.80 L740.45 33.94 L740.52 33.09 L740.60 32.24 L740.67 31.40 L740.74 30.56 L740.81 29.73 L740.88 28.90 L740.95 28.08 L741.01 27.26 L741.08 26.45 L741.14 25.64 L741.20 24.84 L741.26 24.04 L741.32 23.24 L741.38 22.45 L741.44 21.66 L741.50 20.87 L741.55 20.08" stroke="#8c8c8c" stroke-width="0.8" fill="none" stroke-linejoin="round" stroke-linecap="round" />
<path d="M616.40 227.96 L627.08 219.09 L635.79 211.63 L643.12 205.18 L649.43 199.49 L654.95 194.40 L659.85 189.79 L664.24 185.57 L668.21 181.69 L671.83 178.09 L675.14 174.69 L678.20 171.46 L681.02 168.41 L683.65 165.53 L686.10 162.83 L688.39 160.31 L690.53 157.95 L692.56 155.73 L694.46 153.64 L696.26 151.65 L697.96 149.75 L699.58 147.92 L701.11 146.15 L702.57 144.44 L703.96 142.78 L705.28 141.15 L706.54 139.56 L707.75 138.00 L708.91 136.47 L710.01 134.97 L711.07 133.51 L712.09 132.07 L713.06 130.65 L714.00 129.26 L714.90 127.89 L715.77 126.54 L716.60 125.21 L717.41 123.90 L718.18 122.60 L718.93 121.32 L719.65 120.05 L720.34 118.79 L721.01 117.55 L721.66 116.28 L722.29 114.97 L722.89 113.64 L723.48 112.29 L724.05 110.93 L724.60 109.57 L725.13 108.21 L725.64 106.87 L726.14 105.53 L726.62 104.22 L727.09 102.92 L727.54 101.65 L727.98 100.40 L728.41 99.17 L728.83 97.97 L729.23 96.80 L729.62 95.66 L730.00 94.54 L730.36 93.45 L730.72 92.38 L731.07 91.35 L731.41 90.34 L731.74 89.36 L732.05 88.40 L732.36 87.47 L732.67 86.57 L732.96 85.69 L733.24 84.83 L733.52 84.00 L733.79 83.17 L734.06 82.35 L734.31 81.53 L734.56 80.71 L734.80 79.90 L735.04 79.09 L735.27 78.28 L735.49 77.47 L735.71 76.67 L735.92 75.87 L736.13 75.07 L736.33 74.27 L736.53 73.47 L736.72 72.68 L736.91 71.89 L737.09 71.10 L737.26 70.31 L737.44 69.52 L737.61 68.74 L737.77 67.95 L737.93 67.17 L738.09 66.39 L738.24 65.61 L738.39 64.83 L738.53 64.05 L738.67 63.27 L738.81 62.49 L738.94 61.71 L739.08 60.94 L739.20 60.16 L739.33 59.38 L739.45 58.61 L739.57 57.83 L739.69 57.06 L739.80 56.29 L739.91 55.51 L740.02 54.74 L740.12 53.96 L740.23 53.19 L740.33 52.42 L740.42 51.64 L740.52 50.87 L740.61 50.10 L740.70 49.32 L740.79 48.55 L740.88 47.79 L740.96 47.06 L741.05 46.34 L741.13 45.63 L741.21 44.93 L741.28 44.25 L741.36 43.58 L741.43 42.92 L741.50 42.26 L741.57 41.61 L741.64 40.97 L741.71 40.33 L741.78 39.70 L741.84 39.07 L741.90 38.44 L741.96 37.81 L742.02 37.19 L742.08 36.56 L742.14 35.94 L742.19 35.32 L742.25 34.69 L742.30 34.07 L742.35 33.45 L742.40 32.82 L742.45 32.19 L742.50 31.56 L742.55 30.93 L742.59 30.30 L742.64 29.66 L742.68 29.02 L742.73 28.38 L742.77 27.73 L742.81 27.09 L742.85 26.44 L742.89 25.78 L742.93 25.13 L742.97 24.47 L743.00 23.80 L743.04 23.14 L743.07 22.47 L743.11 21.80 L743.14 21.12 L743.17 20.44" stroke="#8c8c8c" stroke-width="0.8" fill="none" stroke-linejoin="round" stroke-linecap="round" />
<path d="M616.40 215.91 L627.71 206.84 L636.83 199.34 L644.44 192.95 L650.96 187.37 L656.63 182.43 L661.64 177.98 L666.12 173.95 L670.16 170.27 L673.83 166.87 L677.18 163.71 L680.27 160.76 L683.12 157.99 L685.76 155.39 L688.22 152.92 L690.51 150.58 L692.66 148.31 L694.68 146.10 L696.59 143.97 L698.38 141.93 L700.08 139.99 L701.68 138.16 L703.20 136.43 L704.65 134.83 L706.02 133.34 L707.33 131.96 L708.58 130.67 L709.77 129.44 L710.91 128.28 L712.00 127.17 L713.04 126.10 L714.04 125.07 L715.00 124.07 L715.92 123.10 L716.80 122.15 L717.65 121.23 L718.46 120.31 L719.25 119.42 L720.00 118.53 L720.73 117.65 L721.43 116.75 L722.11 115.79 L722.76 114.80 L723.39 113.77 L723.99 112.72 L724.58 111.65 L725.14 110.57 L725.69 109.49 L726.22 108.41 L726.73 107.34 L727.23 106.28 L727.71 105.23 L728.17 104.19 L728.62 103.18 L729.05 102.18 L729.47 101.21 L729.88 100.26 L730.28 99.33 L730.66 98.43 L731.03 97.56 L731.39 96.71 L731.74 95.88 L732.08 95.08 L732.41 94.31 L732.73 93.57 L733.04 92.85 L733.34 92.15 L733.64 91.48 L733.92 90.81 L734.20 90.15 L734.47 89.50 L734.73 88.85 L734.98 88.21 L735.23 87.57 L735.47 86.94 L735.70 86.32 L735.93 85.70 L736.15 85.08 L736.36 84.47 L736.57 83.86 L736.77 83.26 L736.97 82.66 L737.16 82.06 L737.35 81.47 L737.53 80.88 L737.71 80.29 L737.88 79.70 L738.05 79.11 L738.21 78.53 L738.37 77.95 L738.52 77.37 L738.67 76.79 L738.82 76.21 L738.96 75.63 L739.10 75.05 L739.24 74.48 L739.37 73.90 L739.50 73.32 L739.62 72.75 L739.75 72.17 L739.87 71.59 L739.98 71.01 L740.09 70.44 L740.20 69.86 L740.31 69.28 L740.42 68.70 L740.52 68.11 L740.62 67.53 L740.71 66.95 L740.81 66.36 L740.90 65.77 L740.99 65.18 L741.08 64.59 L741.16 64.00 L741.25 63.41 L741.33 62.81 L741.41 62.21 L741.48 61.61 L741.56 61.01 L741.63 60.41 L741.70 59.80 L741.77 59.19 L741.84 58.58 L741.91 57.97 L741.97 57.35 L742.04 56.73 L742.10 56.11 L742.16 55.49 L742.22 54.86 L742.27 54.23 L742.33 53.60 L742.39 52.97 L742.44 52.33 L742.49 51.69 L742.54 51.05 L742.59 50.41 L742.64 49.76 L742.69 49.11 L742.73 48.46 L742.78 47.80 L742.82 47.14 L742.86 46.48 L742.90 45.82 L742.94 45.15 L742.98 44.48 L743.02 43.81 L743.06 43.14 L743.10 42.46 L743.13 41.78 L743.17 41.10 L743.20 40.41 L743.24 39.72 L743.27 39.03 L743.30 38.34 L743.33 37.64 L743.36 36.95 L743.39 36.24 L743.42 35.54 L743.45 34.83 L743.48 34.12" stroke="#8c8c8c" stroke-width="0.8" fill="none" stroke-linejoin="round" stroke-linecap="round" />
<path d="M616.40 222.32 L627.71 212.76 L636.83 204.86 L644.44 198.11 L650.96 192.22 L656.63 187.00 L661.64 182.31 L666.12 178.06 L670.16 174.17 L673.83 170.59 L677.18 167.26 L680.27 164.16 L683.12 161.25 L685.76 158.51 L688.22 155.92 L690.51 153.47 L692.66 151.09 L694.68 148.77 L696.59 146.54 L698.38 144.41 L700.08 142.38 L701.68 140.46 L703.20 138.66 L704.65 136.98 L706.02 135.42 L707.33 133.98 L708.58 132.62 L709.77 131.34 L710.91 130.13 L712.00 128.96 L713.04 127.85 L714.04 126.77 L715.00 125.73 L715.92 124.72 L716.80 123.73 L717.65 122.77 L718.46 121.82 L719.25 120.88 L720.00 119.96 L720.73 119.04 L721.43 118.10 L722.11 117.12 L722.76 116.09 L723.39 115.02 L723.99 113.93 L724.58 112.83 L725.14 111.72 L725.69 110.60 L726.22 109.49 L726.73 108.39 L727.23 107.29 L727.71 106.21 L728.17 105.15 L728.62 104.10 L729.05 103.08 L729.47 102.08 L729.88 101.11 L730.28 100.15 L730.66 99.23 L731.03 98.33 L731.39 97.46 L731.74 96.61 L732.08 95.79 L732.41 95.00 L732.73 94.23 L733.04 93.49 L733.34 92.78 L733.64 92.08 L733.92 91.40 L734.20 90.72 L734.47 90.05 L734.73 89.39 L734.98 88.73 L735.23 88.08 L735.47 87.43 L735.70 86.79 L735.93 86.16 L736.15 85.53 L736.36 84.90 L736.57 84.28 L736.77 83.66 L736.97 83.05 L737.16 82.44 L737.35 81.83 L737.53 81.23 L737.71 80.63 L737.88 80.03 L738.05 79.43 L738.21 78.84 L738.37 78.24 L738.52 77.65 L738.67 77.06 L738.82 76.48 L738.96 75.89 L739.10 75.30 L739.24 74.72 L739.37 74.13 L739.50 73.55 L739.62 72.96 L739.75 72.38 L739.87 71.79 L739.98 71.21 L740.09 70.62 L740.20 70.03 L740.31 69.45 L740.42 68.86 L740.52 68.27 L740.62 67.68 L740.71 67.09 L740.81 66.50 L740.90 65.91 L740.99 65.31 L741.08 64.72 L741.16 64.12 L741.25 63.52 L741.33 62.92 L741.41 62.32 L741.48 61.71 L741.56 61.11 L741.63 60.50 L741.70 59.89 L741.77 59.27 L741.84 58.66 L741.91 58.04 L741.97 57.42 L742.04 56.80 L742.10 56.18 L742.16 55.55 L742.22 54.92 L742.27 54.29 L742.33 53.65 L742.39 53.02 L742.44 52.38 L742.49 51.74 L742.54 51.09 L742.59 50.45 L742.64 49.80 L742.69 49.14 L742.73 48.49 L742.78 47.83 L742.82 47.17 L742.86 46.51 L742.90 45.84 L742.94 45.18 L742.98 44.50 L743.02 43.83 L743.06 43.15 L743.10 42.48 L743.13 41.79 L743.17 41.11 L743.20 40.42 L743.24 39.73 L743.27 39.04 L743.30 38.35 L743.33 37.65 L743.36 36.95 L743.39 36.25 L743.42 35.54 L743.45 34.83 L743.48 34.12" stroke="#8c8c8c" stroke-width="0.8" fill="none" stroke-linejoin="round" stroke-linecap="round" />
<path d="M616.40 211.39 L627.71 202.41 L636.83 195.03 L644.44 188.76 L650.96 183.31 L656.63 178.49 L661.64 174.18 L666.12 170.28 L670.16 166.72 L673.83 163.46 L677.18 160.45 L680.27 157.66 L683.12 155.06 L685.76 152.60 L688.22 150.28 L690.51 148.07 L692.66 145.88 L694.68 143.72 L696.59 141.61 L698.38 139.57 L700.08 137.63 L701.68 135.79 L703.20 134.08 L704.65 132.50 L706.02 131.05 L707.33 129.74 L708.58 128.51 L709.77 127.36 L710.91 126.27 L712.00 125.24 L713.04 124.25 L714.04 123.30 L715.00 122.38 L715.92 121.50 L716.80 120.63 L717.65 119.79 L718.46 118.96 L719.25 118.15 L720.00 117.35 L720.73 116.55 L721.43 115.75 L722.11 114.94 L722.76 114.13 L723.39 113.31 L723.99 112.49 L724.58 111.67 L725.14 110.86 L725.69 110.05 L726.22 109.25 L726.73 108.46 L727.23 107.69 L727.71 106.92 L728.17 106.17 L728.62 105.43 L729.05 104.70 L729.47 103.99 L729.88 103.29 L730.28 102.61 L730.66 101.95 L731.03 101.30 L731.39 100.66 L731.74 100.04 L732.08 99.44 L732.41 98.86 L732.73 98.29 L733.04 97.73 L733.34 97.19 L733.64 96.66 L733.92 96.14 L734.20 95.63 L734.47 95.12 L734.73 94.62 L734.98 94.12 L735.23 93.62 L735.47 93.13 L735.70 92.65 L735.93 92.17 L736.15 91.69 L736.36 91.21 L736.57 90.74 L736.77 90.27 L736.97 89.81 L737.16 89.34 L737.35 88.88 L737.53 88.42 L737.71 87.96 L737.88 87.51 L738.05 87.05 L738.21 86.60 L738.37 86.15 L738.52 85.70 L738.67 85.25 L738.82 84.80 L738.96 84.35 L739.10 83.90 L739.24 83.45 L739.37 83.00 L739.50 82.55 L739.62 82.10 L739.75 81.65 L739.87 81.20 L739.98 80.75 L740.09 80.29 L740.20 79.84 L740.31 79.38 L740.42 78.92 L740.52 78.47 L740.62 78.01 L740.71 77.54 L740.81 77.08 L740.90 76.62 L740.99 76.15 L741.08 75.68 L741.16 75.21 L741.25 74.73 L741.33 74.26 L741.41 73.78 L741.48 73.30 L741.56 72.81 L741.63 72.33 L741.70 71.84 L741.77 71.35 L741.84 70.85 L741.91 70.35 L741.97 69.85 L742.04 69.35 L742.10 68.84 L742.16 68.33 L742.22 67.82 L742.27 67.30 L742.33 66.78 L742.39 66.26 L742.44 65.73 L742.49 65.20 L742.54 64.67 L742.59 64.13 L742.64 63.59 L742.69 63.05 L742.73 62.50 L742.78 61.95 L742.82 61.39 L742.86 60.84 L742.90 60.27 L742.94 59.71 L742.98 59.14 L743.02 58.57 L743.06 57.99 L743.10 57.41 L743.13 56.83 L743.17 56.24 L743.20 55.65 L743.24 55.05 L743.27 54.45 L743.30 53.85 L743.33 53.25 L743.36 52.64 L743.39 52.03 L743.42 51.41 L743.45 50.79 L743.48 50.17" stroke="#8c8c8c" stroke-width="0.8" fill="none" stroke-linejoin="round" stroke-linecap="round" />
<path d="M719.00 121.00 L718.07 122.16 L716.84 123.72 L715.38 125.57 L713.75 127.62 L712.03 129.79 L710.28 131.97 L708.58 134.07 L707.00 136.00 L705.58 137.69 L704.26 139.20 L702.98 140.62 L701.69 142.06 L700.31 143.62 L698.77 145.40 L697.03 147.49 L695.00 150.00 L692.64 152.98 L690.00 156.38 L687.14 160.08 L684.12 164.00 L681.04 168.05 L677.94 172.12 L674.90 176.14 L672.00 180.00 L669.07 183.92 L665.98 188.10 L662.84 192.37 L659.75 196.59 L656.81 200.62 L654.14 204.29 L651.83 207.47 L650.00 210.00 L648.70 211.81 L647.84 213.02 L647.35 213.75 L647.12 214.12 L647.07 214.26 L647.09 214.29 L647.10 214.33 L647.00 214.50" stroke="#8c8c8c" stroke-width="0.8" fill="none" stroke-linejoin="round" stroke-linecap="round" />
<path d="M721.00 119.00 L720.30 120.15 L719.38 121.67 L718.27 123.48 L717.04 125.50 L715.75 127.64 L714.44 129.83 L713.17 131.97 L712.00 134.00 L710.98 135.84 L710.10 137.53 L709.27 139.18 L708.42 140.88 L707.47 142.71 L706.35 144.78 L704.99 147.18 L703.30 150.00 L701.24 153.32 L698.85 157.09 L696.22 161.20 L693.42 165.53 L690.52 169.99 L687.60 174.46 L684.73 178.83 L682.00 183.00 L679.22 187.22 L676.24 191.72 L673.18 196.31 L670.17 200.81 L667.32 205.06 L664.77 208.88 L662.62 212.08 L661.00 214.50" stroke="#8c8c8c" stroke-width="0.8" fill="none" stroke-linejoin="round" stroke-linecap="round" />
<path d="M744.74 97.34 L745.88 96.19 L747.01 95.05 L748.13 93.92 L749.24 92.80 L750.33 91.68 L751.42 90.57 L752.49 89.47 L753.55 88.37 L754.61 87.28 L755.65 86.20 L756.68 85.13 L757.70 84.06 L758.71 83.00 L759.72 81.95 L760.71 80.91 L761.69 79.87 L762.67 78.83 L763.63 77.81 L764.59 76.79 L765.54 75.77 L766.48 74.76 L767.41 73.76 L768.34 72.77 L769.25 71.78 L770.16 70.79 L771.06 69.81 L771.96 68.84 L772.84 67.87 L773.72 66.91 L774.59 65.96 L775.46 65.01 L776.31 64.06 L777.16 63.12 L778.01 62.19 L778.85 61.26 L779.68 60.33 L780.50 59.41 L781.32 58.50 L782.13 57.59 L782.93 56.69 L783.73 55.79 L784.53 54.89 L785.32 54.00 L786.10 53.12 L786.87 52.24 L787.64 51.37 L788.41 50.49 L789.17 49.63 L789.92 48.77 L790.67 47.91 L791.41 47.06 L792.15 46.21 L792.89 45.36 L793.61 44.52 L794.34 43.69 L795.06 42.86 L795.77 42.03 L796.48 41.21 L797.18 40.39" stroke="#8c8c8c" stroke-width="0.8" fill="none" stroke-linejoin="round" stroke-linecap="round" />
<path d="M746.61 97.87 L747.60 96.87 L748.58 95.88 L749.55 94.89 L750.51 93.92 L751.46 92.94 L752.41 91.98 L753.34 91.01 L754.27 90.06 L755.19 89.11 L756.10 88.16 L757.01 87.22 L757.90 86.29 L758.79 85.36 L759.67 84.44 L760.55 83.52 L761.41 82.60 L762.27 81.70 L763.13 80.79 L763.97 79.89 L764.81 79.00 L765.65 78.11 L766.48 77.23 L767.30 76.35 L768.11 75.47 L768.92 74.60 L769.72 73.74 L770.52 72.87 L771.31 72.02 L772.09 71.17 L772.87 70.32 L773.64 69.47 L774.41 68.63 L775.17 67.80 L775.93 66.97 L776.68 66.14 L777.43 65.32 L778.17 64.50 L778.90 63.68 L779.63 62.87 L780.36 62.06 L781.08 61.26 L781.79 60.46 L782.50 59.67 L783.21 58.88 L783.91 58.09 L784.61 57.30 L785.30 56.52 L785.99 55.75 L786.67 54.97 L787.35 54.20 L788.03 53.44 L788.70 52.67 L789.37 51.92 L790.03 51.16 L790.69 50.41 L791.34 49.66 L791.99 48.91 L792.64 48.17 L793.28 47.43" stroke="#8c8c8c" stroke-width="0.8" fill="none" stroke-linejoin="round" stroke-linecap="round" />
<path d="M755.00 101.00 L775.00 80.00 L793.60 57.50" stroke="#8c8c8c" stroke-width="0.9" fill="none" stroke-linejoin="round" stroke-linecap="round" />
<path d="M771.60 88.50 L794.40 59.60" stroke="#8c8c8c" stroke-width="0.9" fill="none" stroke-linejoin="round" stroke-linecap="round" />
<path d="M748.20 147.40 L747.60 160.60" stroke="#8c8c8c" stroke-width="0.8" fill="none" stroke-linejoin="round" stroke-linecap="round" />
<path d="M747.10 177.50 L744.60 214.50" stroke="#8c8c8c" stroke-width="0.8" fill="none" stroke-linejoin="round" stroke-linecap="round" />
<path d="M754.50 146.60 L753.20 166.40 L752.50 175.00 L750.40 214.50" stroke="#8c8c8c" stroke-width="0.8" fill="none" stroke-linejoin="round" stroke-linecap="round" />
<path d="M755.30 147.20 L754.00 166.00" stroke="#8c8c8c" stroke-width="0.8" fill="none" stroke-linejoin="round" stroke-linecap="round" />
<path d="M775.20 152.40 L771.90 175.00 L767.80 214.50" stroke="#8c8c8c" stroke-width="0.8" fill="none" stroke-linejoin="round" stroke-linecap="round" />
<path d="M776.20 153.00 L774.60 175.00 L774.40 185.00 L773.00 198.10" stroke="#8c8c8c" stroke-width="0.8" fill="none" stroke-linejoin="round" stroke-linecap="round" />
<path d="M794.10 172.00 L791.80 195.00 L789.90 214.50" stroke="#8c8c8c" stroke-width="0.8" fill="none" stroke-linejoin="round" stroke-linecap="round" />
<path d="M795.00 173.50 L793.60 190.00" stroke="#8c8c8c" stroke-width="0.8" fill="none" stroke-linejoin="round" stroke-linecap="round" />
<path d="M616.40 202.21 L619.73 199.76 L622.96 197.38 L626.09 195.05 L629.14 192.78 L632.10 190.56 L634.98 188.40 L637.78 186.28 L640.51 184.20 L643.18 182.17 L645.78 180.18 L648.31 178.23 L650.79 176.31 L653.21 174.43 L655.58 172.59 L657.90 170.77 L660.16 168.98 L662.38 167.23 L664.56 165.50 L666.69 163.79 L668.78 162.11 L670.83 160.46 L672.84 158.83 L674.81 157.22 L676.75 155.64 L678.65 154.07 L680.52 152.53 L682.35 151.00 L684.16 149.49 L685.93 148.00 L687.68 146.53 L689.40 145.08 L691.09 143.64 L692.75 142.22 L694.39 140.81 L696.01 139.42 L697.60 138.04 L699.16 136.67 L700.71 135.32 L702.23 133.99 L703.73 132.66 L705.21 131.35 L706.67 130.05 L708.11 128.76 L709.53 127.49 L710.93 126.22 L712.31 124.97 L713.68 123.72 L715.03 122.49 L716.36 121.27 L717.67 120.06 L718.97 118.85 L720.26 117.66 L721.52 116.48 L722.78 115.30 L724.02 114.14 L725.24 112.98 L726.45 111.83 L727.65 110.69 L728.83 109.56 L730.00 108.44 L731.16 107.33 L732.30 106.22 L733.44 105.12 L734.56 104.03 L735.67 102.94 L736.77 101.87 L737.85 100.80 L738.93 99.74 L739.99 98.68 L741.05 97.63 L742.09 96.59 L743.13 95.56 L744.15 94.53 L745.17 93.51 L746.17 92.49 L747.17 91.48 L748.15 90.48 L749.13 89.48 L750.10 88.49 L751.06 87.51 L752.01 86.53 L752.95 85.55 L753.89 84.59 L754.81 83.63 L755.73 82.67 L756.64 81.72 L757.54 80.77 L758.44 79.83 L759.33 78.90 L760.21 77.97 L761.08 77.05 L761.94 76.13 L762.80 75.21 L763.66 74.30 L764.50 73.40 L765.34 72.50 L766.17 71.61 L767.00 70.72 L767.82 69.83 L768.63 68.95 L769.44 68.08 L770.24 67.21 L771.03 66.34 L771.82 65.48 L772.60 64.62 L773.38 63.77 L774.15 62.92 L774.92 62.08 L775.68 61.24 L776.44 60.40 L777.19 59.57 L777.93 58.74 L778.67 57.92 L779.40 57.10 L780.13 56.28 L780.86 55.47 L781.58 54.66 L782.29 53.86 L783.00 53.06 L783.71 52.26 L784.41 51.47 L785.10 50.68 L785.80 49.90 L786.48 49.12 L787.17 48.34 L787.84 47.57 L788.52 46.80 L789.19 46.03 L789.85 45.27 L790.52 44.51 L791.17 43.75 L791.83 43.00 L792.48 42.25 L793.12 41.51 L793.76 40.77 L794.40 40.03 L795.03 39.29 L795.66 38.56 L796.29 37.83 L796.91 37.10 L797.53 36.38 L798.15 35.66 L798.76 34.95 L799.37 34.23 L799.97 33.52 L800.58 32.82 L801.17 32.11 L801.77 31.41 L802.36 30.71" stroke="#000" stroke-width="2.8" fill="none" stroke-linejoin="round" stroke-linecap="round" />
<path d="M616.40 202.31 L629.67 192.61 L640.01 184.90 L648.44 178.50 L655.53 173.04 L661.62 168.27 L666.93 164.05 L671.64 160.26 L675.85 156.82 L679.64 153.67 L683.08 150.77 L686.23 148.08 L689.12 145.59 L691.79 143.27 L694.26 141.10 L696.55 139.07 L698.70 137.17 L700.70 135.39 L702.57 133.71 L704.33 132.14 L705.99 130.66 L707.56 129.26 L709.04 127.93 L710.43 126.67 L711.76 125.47 L713.01 124.32 L714.21 123.23 L715.34 122.19 L716.42 121.19 L717.45 120.24 L718.44 119.33 L719.37 118.46 L720.27 117.62 L721.13 116.82 L721.95 116.05 L722.73 115.31 L723.48 114.61 L724.20 113.92 L724.90 113.27 L725.56 112.64 L726.20 112.03 L726.81 111.44 L727.40 110.88 L727.96 110.34 L728.51 109.82 L729.03 109.31 L729.53 108.82 L730.02 108.35 L730.49 107.90 L730.94 107.46 L731.37 107.04 L731.79 106.63 L732.20 106.24 L732.59 105.85 L732.96 105.49 L733.33 105.13 L733.68 104.78 L734.01 104.45 L734.34 104.13 L734.66 103.82 L734.96 103.51 L735.26 103.22 L735.54 102.94 L735.82 102.67 L736.09 102.40 L736.34 102.15 L736.59 101.90 L736.84 101.66 L737.07 101.42 L737.30 101.20 L737.51 100.98 L737.73 100.77 L737.93 100.56 L738.13 100.36 L738.32 100.17 L738.51 99.98 L738.69 99.80 L738.86 99.62 L739.03 99.45 L739.20 99.28 L739.36 99.12 L739.51 98.96 L739.66 98.81 L739.81 98.66 L739.95 98.51 L740.08 98.37 L740.22 98.23 L740.34 98.10 L740.47 97.97 L740.59 97.84 L740.70 97.72 L740.82 97.60 L740.93 97.48 L741.03 97.36 L741.14 97.25 L741.24 97.14 L741.34 97.03 L741.43 96.93 L741.52 96.83 L741.61 96.73 L741.70 96.63 L741.78 96.53 L741.86 96.44 L741.94 96.35 L742.02 96.26 L742.09 96.17 L742.16 96.09 L742.23 96.00 L742.30 95.92 L742.37 95.84 L742.43 95.75 L742.49 95.68 L742.55 95.60 L742.61 95.52 L742.67 95.44 L742.73 95.36 L742.78 95.29 L742.83 95.21 L742.88 95.13 L742.93 95.06 L742.98 94.98 L743.02 94.91 L743.07 94.83 L743.11 94.76 L743.16 94.68 L743.20 94.61 L743.24 94.54 L743.28 94.46 L743.31 94.39 L743.35 94.31 L743.39 94.24 L743.42 94.16 L743.45 94.09 L743.49 94.01 L743.52 93.94 L743.55 93.86 L743.58 93.79 L743.61 93.71 L743.64 93.63 L743.66 93.56 L743.69 93.48 L743.72 93.40 L743.74 93.32 L743.77 93.24 L743.79 93.16 L743.81 93.08 L743.84 92.99 L743.86 92.91 L743.88 92.83 L743.90 92.74 L743.92 92.65 L743.94 92.56 L743.96 92.48 L743.98 92.38 L743.99 92.29 L744.01 92.20 L744.03 92.10 L744.04 92.01 L744.06 91.91 L744.08 91.81" stroke="#ff0000" stroke-width="1.8" fill="none" stroke-linejoin="round" stroke-linecap="round" />
<path d="M616.40 202.57 L628.45 193.75 L638.04 186.60 L645.98 180.58 L652.72 175.39 L658.57 170.83 L663.70 166.77 L668.28 163.12 L672.39 159.80 L676.11 156.71 L679.50 153.82 L682.61 151.12 L685.48 148.59 L688.14 146.24 L690.61 144.03 L692.91 141.95 L695.06 139.96 L697.07 138.07 L698.97 136.28 L700.75 134.59 L702.43 132.99 L704.03 131.50 L705.53 130.10 L706.96 128.79 L708.32 127.55 L709.61 126.38 L710.84 125.26 L712.01 124.19 L713.13 123.16 L714.20 122.18 L715.22 121.24 L716.19 120.34 L717.13 119.47 L718.02 118.64 L718.88 117.84 L719.71 117.06 L720.50 116.32 L721.26 115.60 L721.99 114.90 L722.69 114.23 L723.37 113.58 L724.02 112.95 L724.65 112.35 L725.25 111.76 L725.84 111.20 L726.40 110.65 L726.94 110.12 L727.47 109.61 L727.97 109.11 L728.46 108.63 L728.93 108.17 L729.39 107.72 L729.83 107.28 L730.26 106.86 L730.67 106.45 L731.07 106.05 L731.45 105.67 L731.83 105.29 L732.19 104.93 L732.54 104.58 L732.88 104.24 L733.21 103.91 L733.52 103.59 L733.83 103.29 L734.13 103.00 L734.42 102.72 L734.70 102.46 L734.98 102.20 L735.24 101.96 L735.50 101.73 L735.75 101.50 L735.99 101.29 L736.22 101.08 L736.45 100.89 L736.67 100.69 L736.89 100.51 L737.09 100.33 L737.30 100.16 L737.49 99.99 L737.68 99.83 L737.87 99.67 L738.05 99.52 L738.23 99.37 L738.40 99.22 L738.56 99.08 L738.72 98.94 L738.88 98.80 L739.03 98.66 L739.18 98.53 L739.32 98.40 L739.46 98.27 L739.60 98.14 L739.73 98.02 L739.86 97.89 L739.98 97.77 L740.10 97.64 L740.22 97.52 L740.33 97.40 L740.45 97.28 L740.55 97.16 L740.66 97.05 L740.76 96.94 L740.86 96.83 L740.96 96.72 L741.06 96.61 L741.15 96.51 L741.24 96.40 L741.33 96.30 L741.41 96.20 L741.49 96.10 L741.57 96.00 L741.65 95.90 L741.73 95.80 L741.80 95.70 L741.88 95.60 L741.95 95.49 L742.01 95.39 L742.08 95.29 L742.15 95.19 L742.21 95.08 L742.27 94.98 L742.33 94.87 L742.39 94.75 L742.45 94.63 L742.50 94.50 L742.56 94.36 L742.61 94.22 L742.66 94.07 L742.71 93.91 L742.76 93.74 L742.81 93.57 L742.85 93.40 L742.90 93.21 L742.94 93.02 L742.98 92.82 L743.02 92.62 L743.06 92.40 L743.10 92.18 L743.14 91.96 L743.18 91.72 L743.22 91.48 L743.25 91.23 L743.29 90.98 L743.32 90.72 L743.35 90.45 L743.38 90.17 L743.42 89.87 L743.45 89.49 L743.48 89.02 L743.50 88.48 L743.53 87.89 L743.56 87.24 L743.59 86.55 L743.61 85.83 L743.64 85.10 L743.66 84.34 L743.69 83.58 L743.71 82.82 L743.73 82.06 L743.75 81.31" stroke="#00dd00" stroke-width="1.8" fill="none" stroke-linejoin="round" stroke-linecap="round" />
<path d="M616.40 205.38 L627.71 196.82 L636.83 189.82 L644.44 183.89 L650.96 178.76 L656.63 174.24 L661.64 170.20 L666.12 166.56 L670.16 163.23 L673.83 160.19 L677.18 157.39 L680.27 154.80 L683.12 152.38 L685.76 150.10 L688.22 147.94 L690.51 145.89 L692.66 143.87 L694.68 141.89 L696.59 139.96 L698.38 138.11 L700.08 136.35 L701.68 134.70 L703.20 133.17 L704.65 131.77 L706.02 130.49 L707.33 129.34 L708.58 128.28 L709.77 127.27 L710.91 126.33 L712.00 125.43 L713.04 124.58 L714.04 123.75 L715.00 122.97 L715.92 122.22 L716.80 121.50 L717.65 120.80 L718.46 120.12 L719.25 119.45 L720.00 118.79 L720.73 118.13 L721.43 117.47 L722.11 116.80 L722.76 116.11 L723.39 115.42 L723.99 114.72 L724.58 114.01 L725.14 113.31 L725.69 112.60 L726.22 111.89 L726.73 111.19 L727.23 110.49 L727.71 109.80 L728.17 109.11 L728.62 108.43 L729.05 107.76 L729.47 107.10 L729.88 106.44 L730.28 105.80 L730.66 105.16 L731.03 104.54 L731.39 103.93 L731.74 103.32 L732.08 102.73 L732.41 102.14 L732.73 101.57 L733.04 101.01 L733.34 100.47 L733.64 99.93 L733.92 99.40 L734.20 98.87 L734.47 98.34 L734.73 97.82 L734.98 97.30 L735.23 96.78 L735.47 96.27 L735.70 95.76 L735.93 95.26 L736.15 94.76 L736.36 94.26 L736.57 93.76 L736.77 93.27 L736.97 92.78 L737.16 92.29 L737.35 91.81 L737.53 91.32 L737.71 90.84 L737.88 90.36 L738.05 89.89 L738.21 89.41 L738.37 88.93 L738.52 88.46 L738.67 87.99 L738.82 87.52 L738.96 87.05 L739.10 86.58 L739.24 86.11 L739.37 85.63 L739.50 85.16 L739.62 84.68 L739.75 84.20 L739.87 83.71 L739.98 83.23 L740.09 82.74 L740.20 82.25 L740.31 81.76 L740.42 81.27 L740.52 80.77 L740.62 80.28 L740.71 79.78 L740.81 79.28 L740.90 78.78 L740.99 78.28 L741.08 77.77 L741.16 77.26 L741.25 76.76 L741.33 76.25 L741.41 75.74 L741.48 75.22 L741.56 74.71 L741.63 74.19 L741.70 73.67 L741.77 73.15 L741.84 72.62 L741.91 72.10 L741.97 71.57 L742.04 71.04 L742.10 70.50 L742.16 69.97 L742.22 69.43 L742.27 68.89 L742.33 68.35 L742.39 67.80 L742.44 67.25 L742.49 66.70 L742.54 66.15 L742.59 65.59 L742.64 65.03 L742.69 64.47 L742.73 63.90 L742.78 63.33 L742.82 62.76 L742.86 62.18 L742.90 61.61 L742.94 61.02 L742.98 60.44 L743.02 59.85 L743.06 59.26 L743.10 58.67 L743.13 58.07 L743.17 57.47 L743.20 56.87 L743.24 56.26 L743.27 55.65 L743.30 55.04 L743.33 54.42 L743.36 53.80 L743.39 53.18 L743.42 52.55 L743.45 51.92 L743.48 51.29" stroke="#0000ff" stroke-width="1.8" fill="none" stroke-linejoin="round" stroke-linecap="round" />
<path d="M616.40 208.90 L627.71 200.32 L636.83 193.27 L644.44 187.28 L650.96 182.07 L656.63 177.47 L661.64 173.34 L666.12 169.60 L670.16 166.19 L673.83 163.04 L677.18 160.12 L680.27 157.40 L683.12 154.84 L685.76 152.43 L688.22 150.15 L690.51 147.99 L692.66 145.91 L694.68 143.89 L696.59 141.96 L698.38 140.12 L700.08 138.38 L701.68 136.74 L703.20 135.21 L704.65 133.79 L706.02 132.49 L707.33 131.28 L708.58 130.16 L709.77 129.09 L710.91 128.08 L712.00 127.12 L713.04 126.19 L714.04 125.29 L715.00 124.43 L715.92 123.61 L716.80 122.81 L717.65 122.04 L718.46 121.28 L719.25 120.53 L720.00 119.79 L720.73 119.06 L721.43 118.30 L722.11 117.49 L722.76 116.63 L723.39 115.74 L723.99 114.81 L724.58 113.86 L725.14 112.90 L725.69 111.93 L726.22 110.95 L726.73 109.97 L727.23 108.99 L727.71 108.02 L728.17 107.06 L728.62 106.11 L729.05 105.18 L729.47 104.26 L729.88 103.36 L730.28 102.47 L730.66 101.60 L731.03 100.76 L731.39 99.93 L731.74 99.12 L732.08 98.34 L732.41 97.57 L732.73 96.83 L733.04 96.10 L733.34 95.40 L733.64 94.72 L733.92 94.04 L734.20 93.37 L734.47 92.70 L734.73 92.04 L734.98 91.38 L735.23 90.72 L735.47 90.07 L735.70 89.43 L735.93 88.79 L736.15 88.15 L736.36 87.51 L736.57 86.88 L736.77 86.26 L736.97 85.63 L737.16 85.01 L737.35 84.39 L737.53 83.78 L737.71 83.17 L737.88 82.56 L738.05 81.95 L738.21 81.34 L738.37 80.74 L738.52 80.13 L738.67 79.53 L738.82 78.93 L738.96 78.33 L739.10 77.74 L739.24 77.14 L739.37 76.54 L739.50 75.94 L739.62 75.33 L739.75 74.72 L739.87 74.12 L739.98 73.50 L740.09 72.89 L740.20 72.28 L740.31 71.66 L740.42 71.05 L740.52 70.43 L740.62 69.81 L740.71 69.19 L740.81 68.57 L740.90 67.94 L740.99 67.32 L741.08 66.69 L741.16 66.07 L741.25 65.44 L741.33 64.81 L741.41 64.18 L741.48 63.54 L741.56 62.91 L741.63 62.27 L741.70 61.64 L741.77 61.00 L741.84 60.36 L741.91 59.72 L741.97 59.07 L742.04 58.43 L742.10 57.78 L742.16 57.13 L742.22 56.48 L742.27 55.83 L742.33 55.17 L742.39 54.52 L742.44 53.86 L742.49 53.20 L742.54 52.53 L742.59 51.87 L742.64 51.20 L742.69 50.53 L742.73 49.86 L742.78 49.19 L742.82 48.51 L742.86 47.83 L742.90 47.15 L742.94 46.47 L742.98 45.79 L743.02 45.10 L743.06 44.41 L743.10 43.72 L743.13 43.03 L743.17 42.33 L743.20 41.63 L743.24 40.93 L743.27 40.23 L743.30 39.53 L743.33 38.82 L743.36 38.11 L743.39 37.40 L743.42 36.68 L743.45 35.97 L743.48 35.25" stroke="#00ffff" stroke-width="1.8" fill="none" stroke-linejoin="round" stroke-linecap="round" />
<path d="M616.40 219.70 L627.08 211.41 L635.79 204.47 L643.12 198.49 L649.43 193.23 L654.95 188.53 L659.85 184.28 L664.24 180.40 L668.21 176.83 L671.83 173.53 L675.14 170.40 L678.20 167.43 L681.02 164.62 L683.65 161.98 L686.10 159.50 L688.39 157.17 L690.53 155.00 L692.56 152.98 L694.46 151.08 L696.26 149.29 L697.96 147.58 L699.58 145.95 L701.11 144.38 L702.57 142.86 L703.96 141.39 L705.28 139.95 L706.54 138.54 L707.75 137.16 L708.91 135.80 L710.01 134.47 L711.07 133.17 L712.09 131.88 L713.06 130.61 L714.00 129.37 L714.90 128.14 L715.77 126.94 L716.60 125.76 L717.41 124.60 L718.18 123.46 L718.93 122.33 L719.65 121.22 L720.34 120.11 L721.01 119.02 L721.66 117.89 L722.29 116.72 L722.89 115.52 L723.48 114.30 L724.05 113.06 L724.60 111.82 L725.13 110.58 L725.64 109.34 L726.14 108.11 L726.62 106.89 L727.09 105.68 L727.54 104.48 L727.98 103.31 L728.41 102.15 L728.83 101.01 L729.23 99.89 L729.62 98.80 L730.00 97.72 L730.36 96.67 L730.72 95.64 L731.07 94.64 L731.41 93.65 L731.74 92.68 L732.05 91.74 L732.36 90.82 L732.67 89.91 L732.96 89.03 L733.24 88.17 L733.52 87.33 L733.79 86.50 L734.06 85.66 L734.31 84.83 L734.56 83.99 L734.80 83.16 L735.04 82.33 L735.27 81.51 L735.49 80.68 L735.71 79.86 L735.92 79.04 L736.13 78.22 L736.33 77.40 L736.53 76.58 L736.72 75.76 L736.91 74.95 L737.09 74.14 L737.26 73.33 L737.44 72.52 L737.61 71.71 L737.77 70.90 L737.93 70.10 L738.09 69.29 L738.24 68.49 L738.39 67.69 L738.53 66.89 L738.67 66.09 L738.81 65.29 L738.94 64.49 L739.08 63.69 L739.20 62.90 L739.33 62.10 L739.45 61.30 L739.57 60.50 L739.69 59.69 L739.80 58.89 L739.91 58.08 L740.02 57.28 L740.12 56.47 L740.23 55.66 L740.33 54.85 L740.42 54.05 L740.52 53.24 L740.61 52.43 L740.70 51.62 L740.79 50.81 L740.88 50.02 L740.96 49.25 L741.05 48.50 L741.13 47.75 L741.21 47.03 L741.28 46.31 L741.36 45.61 L741.43 44.91 L741.50 44.22 L741.57 43.54 L741.64 42.87 L741.71 42.20 L741.78 41.54 L741.84 40.88 L741.90 40.22 L741.96 39.57 L742.02 38.92 L742.08 38.27 L742.14 37.62 L742.19 36.97 L742.25 36.33 L742.30 35.68 L742.35 35.03 L742.40 34.38 L742.45 33.73 L742.50 33.08 L742.55 32.43 L742.59 31.78 L742.64 31.12 L742.68 30.46 L742.73 29.80 L742.77 29.14 L742.81 28.48 L742.85 27.81 L742.89 27.14 L742.93 26.47 L742.97 25.79 L743.00 25.12 L743.04 24.44 L743.07 23.75 L743.11 23.07 L743.14 22.38 L743.17 21.69" stroke="#ff00ff" stroke-width="1.8" fill="none" stroke-linejoin="round" stroke-linecap="round" />
<path d="M616.40 229.40 L625.03 222.35 L632.34 216.27 L638.65 210.93 L644.20 206.17 L649.15 201.86 L653.60 197.93 L657.63 194.31 L661.32 190.96 L664.71 187.84 L667.85 184.91 L670.76 182.16 L673.47 179.58 L676.01 177.15 L678.39 174.85 L680.63 172.65 L682.74 170.54 L684.74 168.50 L686.63 166.52 L688.43 164.59 L690.13 162.69 L691.76 160.82 L693.31 158.96 L694.79 157.13 L696.21 155.31 L697.57 153.53 L698.86 151.77 L700.11 150.05 L701.31 148.36 L702.46 146.71 L703.57 145.09 L704.63 143.51 L705.66 141.96 L706.65 140.45 L707.60 138.95 L708.53 137.42 L709.42 135.88 L710.28 134.35 L711.11 132.83 L711.92 131.32 L712.70 129.84 L713.45 128.39 L714.18 126.97 L714.89 125.59 L715.58 124.25 L716.25 122.96 L716.90 121.71 L717.53 120.51 L718.14 119.35 L718.73 118.24 L719.31 117.17 L719.87 116.14 L720.41 115.16 L720.94 114.21 L721.46 113.30 L721.96 112.40 L722.45 111.52 L722.93 110.65 L723.39 109.80 L723.84 108.96 L724.28 108.13 L724.71 107.31 L725.13 106.50 L725.54 105.69 L725.94 104.90 L726.32 104.10 L726.70 103.31 L727.07 102.53 L727.43 101.74 L727.78 100.97 L728.13 100.19 L728.46 99.41 L728.79 98.64 L729.11 97.87 L729.42 97.09 L729.73 96.32 L730.02 95.55 L730.32 94.78 L730.60 94.00 L730.88 93.23 L731.15 92.46 L731.42 91.69 L731.68 90.91 L731.93 90.13 L732.18 89.35 L732.42 88.58 L732.66 87.80 L732.89 87.02 L733.12 86.24 L733.34 85.45 L733.56 84.67 L733.77 83.90 L733.98 83.12 L734.19 82.35 L734.39 81.58 L734.58 80.80 L734.77 80.03 L734.96 79.26 L735.15 78.48 L735.33 77.70 L735.50 76.92 L735.67 76.14 L735.84 75.36 L736.01 74.57 L736.17 73.78 L736.33 72.98 L736.49 72.18 L736.64 71.38 L736.79 70.57 L736.93 69.76 L737.08 68.90 L737.22 67.99 L737.36 67.03 L737.49 66.05 L737.62 65.03 L737.75 63.98 L737.88 62.92 L738.01 61.84 L738.13 60.75 L738.25 59.66 L738.37 58.56 L738.48 57.46 L738.59 56.36 L738.70 55.26 L738.81 54.17 L738.92 53.09 L739.02 52.02 L739.13 50.95 L739.23 49.90 L739.32 48.85 L739.42 47.82 L739.52 46.80 L739.61 45.79 L739.70 44.79 L739.79 43.81 L739.88 42.84 L739.96 41.88 L740.05 40.93 L740.13 40.00 L740.21 39.08 L740.29 38.18 L740.37 37.28 L740.45 36.40 L740.52 35.52 L740.60 34.65 L740.67 33.78 L740.74 32.91 L740.81 32.06 L740.88 31.20 L740.95 30.35 L741.01 29.51 L741.08 28.67 L741.14 27.84 L741.20 27.00 L741.26 26.18 L741.32 25.35 L741.38 24.54 L741.44 23.72 L741.50 22.91 L741.55 22.10" stroke="#e8cc40" stroke-width="1.8" fill="none" stroke-linejoin="round" stroke-linecap="round" />
<circle cx="748.6" cy="90.6" r="1.3" fill="#ff0000"/>
<path d="M787.79 47.33 L788.32 46.72 L788.86 46.11 L789.39 45.50 L789.92 44.89 L790.45 44.29 L790.97 43.69 L791.49 43.09 L792.01 42.49 L792.53 41.89 L793.04 41.30 L793.55 40.71 L794.06 40.12 L794.57 39.53 L795.07 38.95 L795.57 38.36 L796.07 37.78 L796.57 37.21 L797.07 36.63 L797.56 36.05 L798.05 35.48 L798.54 34.91 L799.02 34.34 L799.51 33.77 L799.99 33.21 L800.47 32.65 L800.94 32.09 L801.42 31.53 L801.89 30.97 L802.36 30.41" stroke="#ff0000" stroke-width="1.6" fill="none" stroke-linejoin="round" stroke-linecap="round" />
<circle cx="802.36" cy="30.71" r="1.1" fill="#00dd00"/>
<circle cx="748.3" cy="139.6" r="1.2" fill="#0000ff"/>
<path d="M755.20 140.40 L754.20 147.00" stroke="#00ffff" stroke-width="1.6" fill="none" stroke-linejoin="round" stroke-linecap="round" />
</g>
<g clip-path="url(#cb)">
<path d="M320.90 29.20 L449.00 29.00" stroke="#8c8c8c" stroke-width="1.1" fill="none" stroke-linejoin="round" stroke-linecap="round" />
<path d="M449.00 29.20 L450.63 29.28 L452.80 29.39 L455.38 29.53 L458.25 29.67 L461.28 29.82 L464.33 29.97 L467.28 30.10 L470.00 30.20 L472.55 30.28 L475.07 30.36 L477.57 30.42 L480.06 30.48 L482.54 30.52 L485.02 30.56 L487.51 30.58 L490.00 30.60 L492.50 30.60 L495.00 30.59 L497.50 30.57 L500.00 30.54 L502.50 30.51 L505.00 30.47 L507.50 30.43 L510.00 30.40 L512.39 30.37 L514.62 30.33 L516.80 30.29 L519.00 30.26 L521.33 30.22 L523.88 30.18 L526.73 30.14 L530.00 30.10 L533.98 30.06 L538.72 30.02 L543.91 29.97 L549.25 29.93 L554.43 29.89 L559.16 29.85 L563.11 29.82 L566.00 29.80" stroke="#8c8c8c" stroke-width="0.8" fill="none" stroke-linejoin="round" stroke-linecap="round" />
<path d="M320.90 33.00 L323.91 33.26 L327.90 33.61 L332.66 34.01 L337.95 34.47 L343.55 34.96 L349.25 35.47 L354.80 35.99 L360.00 36.50 L365.01 37.01 L370.12 37.52 L375.29 38.06 L380.44 38.61 L385.55 39.17 L390.54 39.76 L395.38 40.37 L400.00 41.00 L404.49 41.67 L408.91 42.37 L413.25 43.11 L417.44 43.86 L421.45 44.61 L425.24 45.36 L428.77 46.09 L432.00 46.80 L434.88 47.49 L437.45 48.18 L439.74 48.87 L441.81 49.54 L443.72 50.20 L445.52 50.83 L447.26 51.44 L449.00 52.00 L450.66 52.52 L452.15 52.99 L453.52 53.44 L454.81 53.86 L456.07 54.26 L457.32 54.66 L458.62 55.07 L460.00 55.50 L461.48 55.92 L463.02 56.33 L464.60 56.72 L466.19 57.12 L467.75 57.54 L469.26 57.98 L470.68 58.47 L472.00 59.00 L473.16 59.54 L474.16 60.07 L475.07 60.61 L475.94 61.19 L476.81 61.84 L477.74 62.59 L478.79 63.46 L480.00 64.50 L481.41 65.72 L482.99 67.10 L484.68 68.61 L486.44 70.22 L488.20 71.90 L489.91 73.61 L491.53 75.32 L493.00 77.00 L494.35 78.67 L495.65 80.37 L496.89 82.10 L498.06 83.84 L499.17 85.61 L500.20 87.39 L501.14 89.19 L502.00 91.00 L502.76 92.82 L503.42 94.66 L503.99 96.52 L504.49 98.39 L504.92 100.28 L505.31 102.18 L505.67 104.08 L506.00 106.00 L506.29 108.04 L506.52 110.24 L506.71 112.53 L506.85 114.79 L506.96 116.93 L507.05 118.86 L507.13 120.48 L507.20 121.70" stroke="#8c8c8c" stroke-width="0.9" fill="none" stroke-linejoin="round" stroke-linecap="round" />
<path d="M320.90 29.60 L327.32 29.85 L336.22 30.18 L346.84 30.58 L358.45 31.01 L370.31 31.47 L381.68 31.92 L391.83 32.33 L400.00 32.70 L406.42 33.02 L411.90 33.34 L416.55 33.63 L420.51 33.92 L423.90 34.19 L426.86 34.44 L429.52 34.68 L432.00 34.90 L434.09 35.09 L435.58 35.24 L436.59 35.37 L437.25 35.49 L437.69 35.61 L438.05 35.75 L438.44 35.90 L439.00 36.10 L439.66 36.31 L440.25 36.52 L440.80 36.74 L441.30 36.98 L441.76 37.25 L442.20 37.57 L442.61 37.95 L443.00 38.40 L443.37 38.91 L443.71 39.47 L444.02 40.07 L444.30 40.73 L444.56 41.44 L444.79 42.20 L445.00 43.02 L445.20 43.90 L445.37 44.77 L445.51 45.60 L445.63 46.44 L445.73 47.36 L445.81 48.41 L445.88 49.65 L445.94 51.12 L446.00 52.90 L446.05 55.06 L446.09 57.60 L446.11 60.41 L446.12 63.39 L446.14 66.44 L446.15 69.46 L446.17 72.34 L446.20 75.00 L446.23 77.53 L446.25 80.07 L446.27 82.58 L446.30 85.01 L446.34 87.31 L446.39 89.44 L446.48 91.35 L446.60 93.00 L446.76 94.41 L446.95 95.62 L447.17 96.66 L447.42 97.50 L447.67 98.16 L447.93 98.62 L448.19 98.91 L448.45 99.00 L448.72 98.91 L449.01 98.62 L449.32 98.16 L449.62 97.50 L449.92 96.66 L450.19 95.62 L450.42 94.41 L450.60 93.00 L450.73 91.29 L450.81 89.23 L450.86 86.91 L450.88 84.44 L450.89 81.91 L450.89 79.43 L450.89 77.09 L450.90 75.00 L450.91 73.08 L450.89 71.22 L450.87 69.42 L450.84 67.71 L450.83 66.10 L450.82 64.60 L450.84 63.23 L450.90 62.00 L450.97 60.93 L451.05 59.99 L451.14 59.18 L451.26 58.49 L451.40 57.90 L451.58 57.40 L451.81 56.98 L452.10 56.62 L452.42 56.36 L452.74 56.21 L453.10 56.17 L453.50 56.20 L453.97 56.29 L454.53 56.42 L455.20 56.57 L456.00 56.71 L456.93 56.83 L457.98 56.95 L459.13 57.09 L460.37 57.26 L461.69 57.49 L463.08 57.81 L464.52 58.24 L466.00 58.80 L467.57 59.50 L469.27 60.31 L471.04 61.22 L472.88 62.22 L474.72 63.30 L476.55 64.44 L478.32 65.62 L480.00 66.83 L481.62 68.09 L483.23 69.43 L484.82 70.84 L486.38 72.29 L487.88 73.78 L489.33 75.30 L490.71 76.83 L492.00 78.36 L493.22 79.90 L494.36 81.45 L495.45 83.02 L496.47 84.62 L497.43 86.24 L498.34 87.90 L499.19 89.58 L500.00 91.30 L500.75 93.07 L501.45 94.91 L502.09 96.78 L502.68 98.69 L503.21 100.59 L503.69 102.49 L504.12 104.36 L504.50 106.18 L504.81 108.05 L505.05 110.03 L505.23 112.05 L505.36 114.02 L505.45 115.88 L505.52 117.54 L505.58 118.94 L505.65 120.00" stroke="#8c8c8c" stroke-width="0.8" fill="none" stroke-linejoin="round" stroke-linecap="round" />
<path d="M320.90 30.40 L327.32 30.72 L336.22 31.15 L346.84 31.65 L358.45 32.22 L370.31 32.81 L381.68 33.41 L391.83 33.98 L400.00 34.50 L406.42 35.00 L411.90 35.51 L416.55 36.03 L420.51 36.53 L423.90 37.01 L426.86 37.46 L429.52 37.86 L432.00 38.20 L434.09 38.46 L435.58 38.65 L436.59 38.78 L437.25 38.89 L437.69 38.98 L438.05 39.08 L438.44 39.21 L439.00 39.40 L439.65 39.61 L440.24 39.82 L440.77 40.04 L441.26 40.28 L441.72 40.55 L442.15 40.87 L442.58 41.25 L443.00 41.70 L443.42 42.21 L443.83 42.77 L444.23 43.37 L444.60 44.03 L444.95 44.74 L445.27 45.50 L445.55 46.32 L445.80 47.20 L446.00 48.09 L446.15 48.97 L446.27 49.89 L446.36 50.87 L446.43 51.95 L446.49 53.18 L446.54 54.58 L446.60 56.20 L446.65 58.09 L446.69 60.23 L446.71 62.57 L446.73 65.04 L446.74 67.58 L446.75 70.13 L446.77 72.62 L446.80 75.00 L446.83 77.37 L446.86 79.84 L446.89 82.34 L446.93 84.80 L446.97 87.16 L447.03 89.36 L447.10 91.33 L447.20 93.00 L447.32 94.41 L447.46 95.62 L447.62 96.66 L447.80 97.50 L447.98 98.16 L448.17 98.62 L448.36 98.91 L448.55 99.00 L448.75 98.91 L448.97 98.62 L449.21 98.16 L449.44 97.50 L449.67 96.66 L449.88 95.62 L450.06 94.41 L450.20 93.00 L450.30 91.29 L450.38 89.23 L450.42 86.91 L450.45 84.44 L450.47 81.91 L450.48 79.43 L450.49 77.09 L450.50 75.00 L450.51 73.08 L450.49 71.21 L450.47 69.40 L450.44 67.67 L450.43 66.05 L450.42 64.55 L450.44 63.20 L450.50 62.00 L450.57 60.97 L450.64 60.10 L450.73 59.37 L450.83 58.76 L450.97 58.26 L451.15 57.85 L451.39 57.51 L451.70 57.22 L452.05 57.02 L452.42 56.93 L452.83 56.94 L453.30 57.03 L453.83 57.18 L454.45 57.36 L455.17 57.56 L456.00 57.76 L456.95 57.94 L458.01 58.12 L459.16 58.32 L460.39 58.55 L461.71 58.85 L463.09 59.22 L464.52 59.70 L466.00 60.30 L467.57 61.03 L469.27 61.87 L471.04 62.80 L472.88 63.82 L474.72 64.91 L476.55 66.06 L478.32 67.25 L480.00 68.48 L481.62 69.77 L483.23 71.13 L484.82 72.56 L486.38 74.04 L487.88 75.56 L489.33 77.09 L490.71 78.63 L492.00 80.16 L493.22 81.68 L494.36 83.21 L495.45 84.76 L496.47 86.32 L497.43 87.90 L498.34 89.50 L499.19 91.13 L500.00 92.80 L500.76 94.52 L501.47 96.29 L502.12 98.09 L502.72 99.92 L503.27 101.75 L503.75 103.57 L504.16 105.35 L504.50 107.08 L504.75 108.85 L504.90 110.71 L504.97 112.59 L504.98 114.43 L504.96 116.16 L504.92 117.71 L504.90 119.01 L504.90 120.00" stroke="#8c8c8c" stroke-width="0.8" fill="none" stroke-linejoin="round" stroke-linecap="round" />
<path d="M320.90 31.30 L327.32 31.78 L336.22 32.42 L346.84 33.19 L358.45 34.04 L370.31 34.92 L381.68 35.79 L391.83 36.60 L400.00 37.30 L406.42 37.93 L411.90 38.55 L416.55 39.14 L420.51 39.70 L423.90 40.22 L426.86 40.70 L429.52 41.13 L432.00 41.50 L434.09 41.79 L435.58 41.99 L436.59 42.12 L437.25 42.22 L437.69 42.30 L438.05 42.39 L438.44 42.52 L439.00 42.70 L439.65 42.91 L440.23 43.12 L440.75 43.34 L441.22 43.58 L441.68 43.85 L442.11 44.17 L442.55 44.55 L443.00 45.00 L443.47 45.51 L443.95 46.07 L444.43 46.67 L444.90 47.33 L445.34 48.04 L445.75 48.80 L446.10 49.62 L446.40 50.50 L446.63 51.41 L446.80 52.35 L446.92 53.33 L447.00 54.38 L447.06 55.50 L447.10 56.71 L447.15 58.04 L447.20 59.50 L447.25 61.11 L447.29 62.86 L447.31 64.73 L447.32 66.69 L447.34 68.72 L447.35 70.80 L447.37 72.90 L447.40 75.00 L447.44 77.21 L447.48 79.61 L447.52 82.09 L447.56 84.59 L447.61 87.02 L447.66 89.29 L447.73 91.31 L447.80 93.00 L447.88 94.41 L447.97 95.62 L448.07 96.66 L448.18 97.50 L448.29 98.16 L448.41 98.62 L448.53 98.91 L448.65 99.00 L448.79 98.91 L448.94 98.62 L449.10 98.16 L449.26 97.50 L449.42 96.66 L449.57 95.62 L449.69 94.41 L449.80 93.00 L449.88 91.29 L449.94 89.23 L449.99 86.91 L450.02 84.44 L450.05 81.91 L450.07 79.43 L450.08 77.09 L450.10 75.00 L450.11 73.07 L450.09 71.18 L450.07 69.36 L450.04 67.61 L450.03 65.98 L450.02 64.49 L450.04 63.15 L450.10 62.00 L450.17 61.05 L450.23 60.28 L450.31 59.67 L450.41 59.20 L450.54 58.84 L450.73 58.56 L450.97 58.35 L451.30 58.18 L451.68 58.08 L452.10 58.09 L452.57 58.19 L453.10 58.37 L453.70 58.60 L454.37 58.87 L455.13 59.15 L456.00 59.44 L456.97 59.72 L458.03 59.99 L459.19 60.29 L460.42 60.62 L461.72 61.01 L463.09 61.48 L464.52 62.03 L466.00 62.70 L467.57 63.48 L469.27 64.36 L471.04 65.33 L472.88 66.37 L474.72 67.48 L476.55 68.65 L478.32 69.86 L480.00 71.12 L481.62 72.44 L483.23 73.85 L484.82 75.32 L486.38 76.85 L487.88 78.40 L489.33 79.96 L490.71 81.51 L492.00 83.04 L493.22 84.54 L494.36 86.04 L495.45 87.53 L496.47 89.03 L497.43 90.54 L498.34 92.07 L499.19 93.62 L500.00 95.20 L500.77 96.82 L501.50 98.49 L502.18 100.19 L502.80 101.90 L503.35 103.61 L503.83 105.29 L504.22 106.94 L504.50 108.52 L504.65 110.12 L504.65 111.79 L504.55 113.46 L504.38 115.09 L504.17 116.62 L503.97 117.98 L503.80 119.13 L503.70 120.00" stroke="#8c8c8c" stroke-width="0.8" fill="none" stroke-linejoin="round" stroke-linecap="round" />
<path d="M320.90 32.20 L327.32 32.75 L336.22 33.50 L346.84 34.40 L358.45 35.39 L370.31 36.41 L381.68 37.43 L391.83 38.37 L400.00 39.20 L406.42 39.95 L411.90 40.68 L416.55 41.39 L420.51 42.06 L423.90 42.69 L426.86 43.26 L429.52 43.77 L432.00 44.20 L434.09 44.52 L435.58 44.74 L436.59 44.88 L437.25 44.97 L437.69 45.04 L438.05 45.11 L438.44 45.22 L439.00 45.40 L439.64 45.61 L440.21 45.82 L440.72 46.04 L441.19 46.28 L441.63 46.55 L442.07 46.87 L442.52 47.25 L443.00 47.70 L443.52 48.21 L444.08 48.77 L444.64 49.37 L445.20 50.03 L445.73 50.74 L446.22 51.50 L446.65 52.32 L447.00 53.20 L447.26 54.13 L447.44 55.11 L447.56 56.15 L447.64 57.24 L447.68 58.39 L447.72 59.60 L447.75 60.87 L447.80 62.20 L447.85 63.58 L447.89 65.01 L447.91 66.49 L447.93 68.04 L447.94 69.65 L447.95 71.35 L447.97 73.13 L448.00 75.00 L448.04 77.08 L448.09 79.42 L448.14 81.90 L448.19 84.42 L448.24 86.90 L448.30 89.22 L448.35 91.29 L448.40 93.00 L448.44 94.41 L448.48 95.62 L448.52 96.66 L448.56 97.50 L448.60 98.16 L448.64 98.62 L448.69 98.91 L448.75 99.00 L448.82 98.91 L448.90 98.62 L448.99 98.16 L449.08 97.50 L449.17 96.66 L449.26 95.62 L449.33 94.41 L449.40 93.00 L449.46 91.29 L449.51 89.23 L449.55 86.91 L449.59 84.44 L449.62 81.91 L449.65 79.43 L449.68 77.09 L449.70 75.00 L449.71 73.08 L449.69 71.22 L449.67 69.43 L449.64 67.72 L449.63 66.11 L449.62 64.61 L449.64 63.23 L449.70 62.00 L449.77 60.92 L449.82 59.97 L449.89 59.15 L449.98 58.44 L450.11 57.83 L450.30 57.31 L450.56 56.87 L450.90 56.50 L451.32 56.22 L451.79 56.07 L452.31 56.01 L452.90 56.03 L453.56 56.11 L454.29 56.23 L455.10 56.37 L456.00 56.50 L456.99 56.61 L458.06 56.72 L459.22 56.84 L460.44 57.00 L461.74 57.22 L463.10 57.53 L464.53 57.95 L466.00 58.50 L467.57 59.19 L469.27 60.00 L471.04 60.91 L472.88 61.91 L474.72 62.98 L476.55 64.11 L478.32 65.29 L480.00 66.50 L481.62 67.76 L483.23 69.09 L484.82 70.49 L486.38 71.94 L487.88 73.42 L489.33 74.94 L490.71 76.47 L492.00 78.00 L493.22 79.54 L494.36 81.10 L495.45 82.68 L496.47 84.28 L497.43 85.91 L498.34 87.57 L499.19 89.27 L500.00 91.00 L500.75 92.79 L501.45 94.63 L502.08 96.52 L502.67 98.44 L503.20 100.36 L503.68 102.27 L504.11 104.16 L504.50 106.00 L504.82 107.89 L505.08 109.90 L505.28 111.94 L505.43 113.94 L505.55 115.82 L505.64 117.51 L505.72 118.93 L505.80 120.00" stroke="#8c8c8c" stroke-width="0.8" fill="none" stroke-linejoin="round" stroke-linecap="round" />
<path d="M457.30 100.00 L457.38 98.72 L457.46 96.96 L457.56 94.86 L457.68 92.56 L457.83 90.19 L458.01 87.88 L458.23 85.77 L458.50 84.00 L458.81 82.51 L459.14 81.15 L459.51 79.92 L459.92 78.79 L460.37 77.75 L460.86 76.78 L461.40 75.87 L462.00 75.00 L462.63 74.15 L463.30 73.32 L464.00 72.55 L464.75 71.85 L465.56 71.26 L466.45 70.80 L467.43 70.50 L468.50 70.40 L469.71 70.49 L471.06 70.75 L472.51 71.17 L474.03 71.73 L475.58 72.40 L477.11 73.18 L478.60 74.06 L480.00 75.00 L481.34 76.05 L482.68 77.24 L483.99 78.55 L485.28 79.95 L486.54 81.42 L487.75 82.93 L488.90 84.47 L490.00 86.00 L491.04 87.55 L492.02 89.13 L492.95 90.75 L493.84 92.41 L494.69 94.11 L495.50 95.84 L496.27 97.60 L497.00 99.40 L497.71 101.25 L498.39 103.16 L499.05 105.12 L499.66 107.10 L500.22 109.10 L500.71 111.09 L501.15 113.06 L501.50 115.00 L501.78 116.92 L501.99 118.84 L502.13 120.76 L502.22 122.66 L502.24 124.55 L502.21 126.40 L502.13 128.22 L502.00 130.00 L501.81 131.74 L501.57 133.46 L501.26 135.15 L500.91 136.81 L500.50 138.43 L500.04 140.01 L499.54 141.53 L499.00 143.00 L498.41 144.39 L497.78 145.71 L497.10 146.97 L496.38 148.19 L495.60 149.38 L494.78 150.57 L493.91 151.77 L493.00 153.00 L492.03 154.27 L490.98 155.57 L489.89 156.88 L488.75 158.19 L487.58 159.47 L486.39 160.71 L485.19 161.89 L484.00 163.00 L482.80 164.06 L481.57 165.10 L480.32 166.11 L479.06 167.06 L477.79 167.95 L476.52 168.74 L475.26 169.43 L474.00 170.00 L472.72 170.46 L471.38 170.84 L470.03 171.12 L468.69 171.31 L467.38 171.40 L466.15 171.38 L465.01 171.25 L464.00 171.00 L463.11 170.65 L462.32 170.20 L461.60 169.66 L460.97 169.00 L460.40 168.22 L459.89 167.30 L459.42 166.23 L459.00 165.00 L458.64 163.59 L458.35 162.00 L458.12 160.25 L457.95 158.38 L457.81 156.39 L457.70 154.31 L457.60 152.18 L457.50 150.00 L457.41 147.81 L457.35 145.59 L457.32 143.31 L457.31 140.94 L457.30 138.45 L457.31 135.82 L457.31 133.01 L457.30 130.00 L457.29 126.52 L457.29 122.50 L457.29 118.16 L457.29 113.75 L457.29 109.49 L457.30 105.62 L457.30 102.38 L457.30 100.00" stroke="#8c8c8c" stroke-width="0.9" fill="none" stroke-linejoin="round" stroke-linecap="round" />
<ellipse cx="486.5" cy="120.3" rx="11.8" ry="22.9" stroke="#8c8c8c" stroke-width="0.9" fill="none"/>
<path d="M449.80 134.90 L449.84 136.03 L449.88 137.50 L449.93 139.24 L449.99 141.20 L450.06 143.32 L450.14 145.53 L450.21 147.77 L450.30 150.00 L450.39 152.32 L450.49 154.84 L450.59 157.49 L450.70 160.19 L450.82 162.87 L450.94 165.45 L451.07 167.85 L451.20 170.00 L451.35 171.94 L451.51 173.75 L451.69 175.43 L451.87 176.99 L452.05 178.43 L452.21 179.74 L452.37 180.93 L452.50 182.00 L452.61 182.92 L452.71 183.68 L452.80 184.30 L452.88 184.80 L452.95 185.21 L453.01 185.55 L453.06 185.84 L453.10 186.10" stroke="#8c8c8c" stroke-width="0.9" fill="none" stroke-linejoin="round" stroke-linecap="round" />
<path d="M320.90 207.60 L326.85 206.98 L335.01 206.14 L344.76 205.14 L355.45 204.04 L366.45 202.88 L377.14 201.72 L386.86 200.61 L395.00 199.60 L401.82 198.65 L408.05 197.67 L413.73 196.70 L418.88 195.76 L423.55 194.85 L427.77 194.01 L431.57 193.25 L435.00 192.60 L437.90 192.08 L440.19 191.68 L441.97 191.38 L443.34 191.14 L444.43 190.92 L445.32 190.70 L446.15 190.43 L447.00 190.10 L447.78 189.68 L448.35 189.19 L448.74 188.67 L449.00 188.14 L449.16 187.63 L449.27 187.17 L449.37 186.79 L449.50 186.50" stroke="#ff0000" stroke-width="1.8" fill="none" stroke-linejoin="round" stroke-linecap="round" />
<path d="M320.90 207.50 L323.94 207.20 L328.02 206.81 L332.88 206.34 L338.26 205.82 L343.92 205.26 L349.60 204.69 L355.04 204.13 L360.00 203.60 L364.54 203.10 L368.92 202.62 L373.21 202.14 L377.44 201.64 L381.69 201.13 L385.99 200.57 L390.41 199.97 L395.00 199.30 L399.94 198.53 L405.25 197.65 L410.77 196.70 L416.30 195.73 L421.67 194.76 L426.70 193.84 L431.20 193.01 L435.00 192.30 L438.03 191.73 L440.44 191.26 L442.36 190.87 L443.92 190.53 L445.26 190.21 L446.49 189.90 L447.76 189.58 L449.20 189.20 L450.67 188.84 L451.99 188.54 L453.23 188.27 L454.42 187.98 L455.65 187.63 L456.94 187.18 L458.38 186.58 L460.00 185.80 L461.87 184.80 L463.95 183.60 L466.18 182.26 L468.49 180.81 L470.79 179.32 L473.03 177.82 L475.12 176.36 L477.00 175.00 L478.69 173.70 L480.27 172.40 L481.74 171.10 L483.12 169.82 L484.43 168.57 L485.67 167.34 L486.86 166.15 L488.00 165.00 L489.07 163.95 L490.03 163.02 L490.92 162.16 L491.75 161.31 L492.55 160.42 L493.34 159.45 L494.15 158.32 L495.00 157.00 L495.90 155.43 L496.83 153.65 L497.78 151.71 L498.72 149.69 L499.63 147.64 L500.50 145.63 L501.29 143.73 L502.00 142.00 L502.62 140.42 L503.16 138.93 L503.65 137.51 L504.08 136.14 L504.47 134.82 L504.83 133.54 L505.17 132.27 L505.50 131.00 L505.81 129.69 L506.09 128.34 L506.34 126.98 L506.57 125.66 L506.77 124.43 L506.94 123.33 L507.08 122.41 L507.20 121.70" stroke="#000" stroke-width="2.8" fill="none" stroke-linejoin="round" stroke-linecap="round" />
<path d="M320.90 208.00 L326.85 207.47 L335.01 206.76 L344.76 205.92 L355.45 204.99 L366.45 204.00 L377.14 203.02 L386.86 202.07 L395.00 201.20 L401.84 200.36 L408.12 199.50 L413.85 198.62 L419.05 197.77 L423.75 196.95 L427.96 196.21 L431.70 195.55 L435.00 195.00 L437.68 194.60 L439.65 194.34 L441.04 194.18 L442.01 194.08 L442.67 194.00 L443.19 193.91 L443.68 193.75 L444.30 193.50 L444.93 193.20 L445.39 192.89 L445.72 192.58 L445.96 192.22 L446.13 191.80 L446.27 191.31 L446.41 190.71 L446.60 190.00 L446.81 189.07 L446.99 187.91 L447.16 186.61 L447.31 185.25 L447.44 183.92 L447.57 182.71 L447.69 181.71 L447.80 181.00 L447.91 180.70 L448.00 180.79 L448.08 181.11 L448.15 181.53 L448.22 181.92 L448.28 182.14 L448.34 182.04 L448.40 181.50 L448.46 180.39 L448.52 178.79 L448.58 176.87 L448.64 174.78 L448.69 172.69 L448.73 170.75 L448.77 169.14 L448.80 168.00" stroke="#00dd00" stroke-width="1.8" fill="none" stroke-linejoin="round" stroke-linecap="round" />
<path d="M320.90 208.60 L326.85 208.17 L335.01 207.60 L344.76 206.92 L355.45 206.17 L366.45 205.37 L377.14 204.58 L386.86 203.81 L395.00 203.10 L401.84 202.42 L408.12 201.71 L413.86 201.00 L419.07 200.30 L423.77 199.63 L427.98 199.01 L431.72 198.46 L435.00 198.00 L437.65 197.65 L439.59 197.42 L440.94 197.26 L441.86 197.15 L442.48 197.05 L442.95 196.93 L443.41 196.76 L444.00 196.50 L444.62 196.20 L445.07 195.89 L445.40 195.58 L445.64 195.22 L445.81 194.80 L445.96 194.31 L446.11 193.71 L446.30 193.00 L446.51 192.15 L446.69 191.18 L446.86 190.12 L447.01 188.97 L447.14 187.76 L447.27 186.52 L447.39 185.26 L447.50 184.00 L447.61 182.82 L447.70 181.72 L447.78 180.64 L447.85 179.50 L447.92 178.24 L447.98 176.78 L448.04 175.06 L448.10 173.00 L448.16 170.37 L448.22 167.15 L448.28 163.55 L448.34 159.81 L448.39 156.16 L448.43 152.82 L448.47 150.02 L448.50 148.00" stroke="#0000ff" stroke-width="1.8" fill="none" stroke-linejoin="round" stroke-linecap="round" />
<path d="M320.90 209.70 L326.85 209.36 L335.01 208.89 L344.76 208.34 L355.45 207.72 L366.45 207.08 L377.14 206.45 L386.86 205.84 L395.00 205.30 L401.85 204.80 L408.13 204.29 L413.87 203.80 L419.09 203.32 L423.79 202.86 L428.00 202.43 L431.73 202.04 L435.00 201.70 L437.63 201.43 L439.53 201.22 L440.84 201.07 L441.71 200.94 L442.28 200.82 L442.71 200.67 L443.13 200.47 L443.70 200.20 L444.30 199.90 L444.75 199.59 L445.08 199.28 L445.32 198.92 L445.50 198.50 L445.65 198.01 L445.81 197.41 L446.00 196.70 L446.21 195.85 L446.39 194.88 L446.56 193.81 L446.71 192.66 L446.84 191.45 L446.97 190.21 L447.09 188.95 L447.20 187.70 L447.31 186.53 L447.40 185.45 L447.48 184.38 L447.55 183.27 L447.62 182.03 L447.68 180.59 L447.74 178.89 L447.80 176.85 L447.86 174.24 L447.92 171.04 L447.98 167.46 L448.04 163.75 L448.09 160.11 L448.13 156.79 L448.17 154.01 L448.20 152.00" stroke="#00ffff" stroke-width="1.8" fill="none" stroke-linejoin="round" stroke-linecap="round" />
<path d="M320.90 211.10 L326.85 210.87 L335.01 210.57 L344.76 210.21 L355.45 209.81 L366.45 209.39 L377.14 208.96 L386.86 208.56 L395.00 208.20 L401.85 207.86 L408.16 207.52 L413.93 207.19 L419.16 206.86 L423.88 206.55 L428.08 206.25 L431.79 205.96 L435.00 205.70 L437.53 205.48 L439.28 205.30 L440.42 205.15 L441.11 205.01 L441.50 204.87 L441.75 204.69 L442.03 204.48 L442.50 204.20 L443.04 203.90 L443.47 203.59 L443.79 203.28 L444.04 202.92 L444.25 202.50 L444.42 202.01 L444.60 201.41 L444.80 200.70 L445.01 199.91 L445.19 199.07 L445.36 198.17 L445.51 197.18 L445.64 196.06 L445.77 194.79 L445.89 193.35 L446.00 191.70 L446.11 189.89 L446.20 187.95 L446.28 185.88 L446.35 183.63 L446.42 181.20 L446.48 178.56 L446.54 175.68 L446.60 172.55 L446.66 168.85 L446.72 164.47 L446.78 159.69 L446.84 154.78 L446.89 150.02 L446.93 145.68 L446.97 142.05 L447.00 139.40" stroke="#ff00ff" stroke-width="1.8" fill="none" stroke-linejoin="round" stroke-linecap="round" />
<path d="M320.90 212.50 L326.85 212.31 L335.01 212.06 L344.76 211.75 L355.45 211.42 L366.45 211.07 L377.14 210.72 L386.86 210.39 L395.00 210.10 L401.86 209.84 L408.17 209.58 L413.95 209.33 L419.19 209.09 L423.92 208.86 L428.12 208.64 L431.81 208.41 L435.00 208.20 L437.49 208.01 L439.18 207.84 L440.25 207.70 L440.86 207.55 L441.17 207.39 L441.35 207.21 L441.58 206.98 L442.00 206.70 L442.52 206.40 L442.93 206.09 L443.26 205.78 L443.51 205.42 L443.72 205.00 L443.91 204.51 L444.10 203.91 L444.30 203.20 L444.51 202.41 L444.69 201.59 L444.86 200.69 L445.01 199.71 L445.14 198.59 L445.27 197.32 L445.39 195.87 L445.50 194.20 L445.61 192.35 L445.70 190.37 L445.78 188.24 L445.85 185.94 L445.92 183.44 L445.98 180.73 L446.04 177.79 L446.10 174.60 L446.16 170.84 L446.22 166.40 L446.28 161.55 L446.34 156.58 L446.39 151.75 L446.43 147.37 L446.47 143.69 L446.50 141.00" stroke="#e8cc40" stroke-width="1.8" fill="none" stroke-linejoin="round" stroke-linecap="round" />
<path d="M493.70 154.00 L494.04 153.62 L494.49 153.12 L495.03 152.54 L495.63 151.88 L496.26 151.17 L496.88 150.44 L497.47 149.71 L498.00 149.00 L498.48 148.30 L498.95 147.59 L499.42 146.87 L499.86 146.12 L500.30 145.37 L500.71 144.59 L501.12 143.80 L501.50 143.00 L501.86 142.16 L502.20 141.27 L502.52 140.36 L502.82 139.44 L503.12 138.52 L503.41 137.63 L503.70 136.79 L504.00 136.00 L504.31 135.25 L504.64 134.49 L504.98 133.76 L505.31 133.06 L505.61 132.42 L505.89 131.85 L506.12 131.37 L506.30 131.00" stroke="#ff0000" stroke-width="2.0" fill="none" stroke-linejoin="round" stroke-linecap="round" />
<path d="M506.30 131.00 L506.34 130.61 L506.40 130.09 L506.47 129.46 L506.55 128.77 L506.63 128.04 L506.70 127.32 L506.76 126.63 L506.80 126.00 L506.82 125.40 L506.84 124.78 L506.84 124.15 L506.83 123.54 L506.82 122.97 L506.81 122.46 L506.80 122.03 L506.80 121.70" stroke="#00dd00" stroke-width="1.8" fill="none" stroke-linejoin="round" stroke-linecap="round" />
<circle cx="453.1" cy="186.1" r="1.2" fill="#ff0000"/>
</g>
<path d="M24.60 7.9 V214.5 H270.20" stroke="#5e5e5e" stroke-width="1.25" fill="none"/>
<path d="M320.90 7.9 V214.5 H566.20" stroke="#5e5e5e" stroke-width="1.25" fill="none"/>
<path d="M616.40 7.9 V214.5 H861.60" stroke="#5e5e5e" stroke-width="1.25" fill="none"/>
<text x="42.9" y="125.50" font-size="11.5">w/ auxiliary</text>
<text x="42.9" y="139.45" font-size="11.5">oscillator as mass</text>
<text x="42.9" y="153.40" font-size="11.5">ratio increases</text>
<text x="338.7" y="153.90" font-size="11.5">w/ auxiliary</text>
<text x="338.7" y="167.85" font-size="11.5">oscillator as mass</text>
<text x="338.7" y="181.80" font-size="11.5">ratio increases</text>
<text x="630.9" y="85.90" font-size="11.5">w/ auxiliary</text>
<text x="630.9" y="99.85" font-size="11.5">oscillator as mass</text>
<text x="630.9" y="113.80" font-size="11.5">ratio increases</text>
<line x1="143.00" y1="183.60" x2="124.49" y2="155.42" stroke="#000" stroke-width="1.1"/>
<path d="M121.20 150.40 L127.22 154.82 L122.87 157.68 Z" fill="#000"/>
<line x1="406.60" y1="185.20" x2="437.86" y2="208.15" stroke="#000" stroke-width="1.1"/>
<path d="M442.70 211.70 L435.52 209.65 L438.60 205.46 Z" fill="#000"/>
<line x1="746.90" y1="98.80" x2="730.50" y2="85.05" stroke="#000" stroke-width="1.1"/>
<path d="M725.90 81.20 L732.94 83.70 L729.59 87.69 Z" fill="#000"/>
<line x1="686.00" y1="137.80" x2="698.66" y2="155.88" stroke="#000" stroke-width="1.1"/>
<path d="M702.10 160.80 L695.96 156.56 L700.22 153.57 Z" fill="#000"/>
<rect x="175.3" y="6.6" width="97.1" height="150.3" fill="#fff" stroke="#333" stroke-width="1"/>
<text x="179" y="18" font-size="11.5">All sub-figs:</text>
<line x1="179.6" y1="29.3" x2="200.6" y2="29.3" stroke="#000" stroke-width="2.2"/>
<text x="204.4" y="32.4" font-size="11.5">individual</text>
<text x="179" y="46.4" font-size="11.5">bistable harvester</text>
<text x="179" y="63.5" font-size="11.5">w/ auxiliary linear</text>
<text x="179" y="77.6" font-size="11.5">oscillator:</text>
<line x1="179.6" y1="84.20" x2="200.4" y2="84.20" stroke="#ff0000" stroke-width="1.6"/>
<text transform="translate(204.0,87.10) scale(1.28,1)" font-size="10.8" class="sf" font-style="italic">μ</text>
<rect x="214.4" y="82.45" width="7.5" height="0.95" fill="#111"/>
<rect x="214.4" y="85.05" width="7.5" height="0.95" fill="#111"/>
<text x="225.5" y="87.40" font-size="11.6" class="sf">0.003</text>
<line x1="179.6" y1="93.98" x2="200.4" y2="93.98" stroke="#00ee00" stroke-width="1.6"/>
<text transform="translate(204.0,96.88) scale(1.28,1)" font-size="10.8" class="sf" font-style="italic">μ</text>
<rect x="214.4" y="92.23" width="7.5" height="0.95" fill="#111"/>
<rect x="214.4" y="94.83" width="7.5" height="0.95" fill="#111"/>
<text x="225.5" y="97.18" font-size="11.6" class="sf">0.01</text>
<line x1="179.6" y1="103.76" x2="200.4" y2="103.76" stroke="#0000ff" stroke-width="1.6"/>
<text transform="translate(204.0,106.66) scale(1.28,1)" font-size="10.8" class="sf" font-style="italic">μ</text>
<rect x="214.4" y="102.01" width="7.5" height="0.95" fill="#111"/>
<rect x="214.4" y="104.61" width="7.5" height="0.95" fill="#111"/>
<text x="225.5" y="106.96" font-size="11.6" class="sf">0.1</text>
<line x1="179.6" y1="113.54" x2="200.4" y2="113.54" stroke="#00ffff" stroke-width="1.6"/>
<text transform="translate(204.0,116.44) scale(1.28,1)" font-size="10.8" class="sf" font-style="italic">μ</text>
<rect x="214.4" y="111.79" width="7.5" height="0.95" fill="#111"/>
<rect x="214.4" y="114.39" width="7.5" height="0.95" fill="#111"/>
<text x="225.5" y="116.74" font-size="11.6" class="sf">0.3</text>
<line x1="179.6" y1="123.32" x2="200.4" y2="123.32" stroke="#ff00ff" stroke-width="1.6"/>
<text transform="translate(204.0,126.22) scale(1.28,1)" font-size="10.8" class="sf" font-style="italic">μ</text>
<rect x="214.4" y="121.57" width="7.5" height="0.95" fill="#111"/>
<rect x="214.4" y="124.17" width="7.5" height="0.95" fill="#111"/>
<text x="225.5" y="126.52" font-size="11.6" class="sf">1</text>
<line x1="179.6" y1="133.10" x2="200.4" y2="133.10" stroke="#e6cc33" stroke-width="1.6"/>
<text transform="translate(204.0,136.00) scale(1.28,1)" font-size="10.8" class="sf" font-style="italic">μ</text>
<rect x="214.4" y="131.35" width="7.5" height="0.95" fill="#111"/>
<rect x="214.4" y="133.95" width="7.5" height="0.95" fill="#111"/>
<text x="225.5" y="136.30" font-size="11.6" class="sf">2</text>
<line x1="179.6" y1="149.8" x2="200.4" y2="149.8" stroke="#aaa" stroke-width="1.2"/>
<text x="204.4" y="153.2" font-size="11.5">unstable</text>
</svg></body></html>
